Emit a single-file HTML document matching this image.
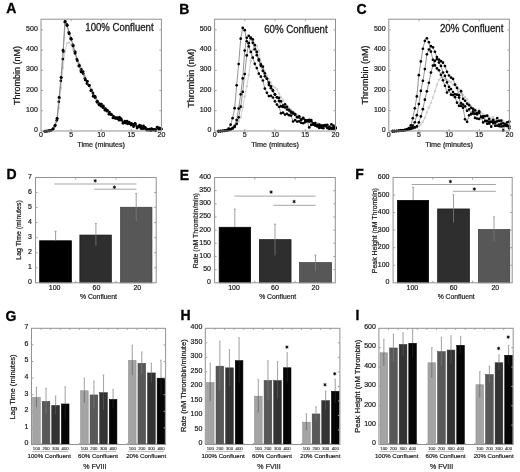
<!DOCTYPE html>
<html><head><meta charset="utf-8"><style>
html,body{margin:0;padding:0;background:#fff;width:520px;height:472px;overflow:hidden}
svg{display:block;font-family:"Liberation Sans", sans-serif;filter:blur(0.45px)}
</style></head><body>
<svg width="520" height="472" viewBox="0 0 520 472">
<rect width="520" height="472" fill="#fff"/>
<text x="6.3" y="12.9" font-size="14" text-anchor="start" font-weight="bold" fill="#000" stroke="#000" stroke-width="0.3">A</text>
<text x="179.3" y="13.5" font-size="14" text-anchor="start" font-weight="bold" fill="#000" stroke="#000" stroke-width="0.3">B</text>
<text x="356.6" y="14" font-size="14" text-anchor="start" font-weight="bold" fill="#000" stroke="#000" stroke-width="0.3">C</text>
<text x="6.6" y="179.3" font-size="14" text-anchor="start" font-weight="bold" fill="#000" stroke="#000" stroke-width="0.3">D</text>
<text x="179.8" y="179.7" font-size="14" text-anchor="start" font-weight="bold" fill="#000" stroke="#000" stroke-width="0.3">E</text>
<text x="355.2" y="179.1" font-size="14" text-anchor="start" font-weight="bold" fill="#000" stroke="#000" stroke-width="0.3">F</text>
<text x="5.5" y="320.8" font-size="14" text-anchor="start" font-weight="bold" fill="#000" stroke="#000" stroke-width="0.3">G</text>
<text x="180.6" y="319.7" font-size="14" text-anchor="start" font-weight="bold" fill="#000" stroke="#000" stroke-width="0.3">H</text>
<text x="355.4" y="319.7" font-size="14" text-anchor="start" font-weight="bold" fill="#000" stroke="#000" stroke-width="0.3">I</text>
<path d="M44.91 131.24 L46.92 131.11 L48.93 130.89 L50.93 130.43 L52.94 129.35 L54.95 126.66 L56.95 121.22 L58.96 108.05 L60.97 87.9 L62.97 67.64 L64.98 51.44 L66.99 43.33 L68.99 42.5 L71 45.29 L73.01 49.44 L75.01 54.31 L77.02 58.63 L79.03 63.16 L81.03 67.63 L83.04 72.56 L85.05 76.16 L87.05 81.14 L89.06 85.72 L91.07 88.79 L93.07 93.41 L95.08 97.39 L97.09 100 L99.09 103.54 L101.1 104.65 L103.11 107.33 L105.11 109.25 L107.12 110.17 L109.13 112.91 L111.13 113.72 L113.14 116.41 L115.15 117.31 L117.15 118.76 L119.16 118.79 L121.17 119.62 L123.17 121.26 L125.18 121.42 L127.19 122.39 L129.19 122.69 L131.2 123.95 L133.21 125.22 L135.21 126.07 L137.22 125.8 L139.23 125.57 L141.23 126.85 L143.24 127.68 L145.25 127.2 L147.25 128.37 L149.26 128.88 L151.27 129.31 L153.27 129.74 L155.28 129.31 L157.29 128.92 L159.29 127.92 L161.3 128.86" fill="none" stroke="#cdcdcd" stroke-width="0.9"/>
<circle cx="44.91" cy="131.24" r="1.2" fill="#d0d0d0"/>
<circle cx="46.92" cy="131.11" r="1.2" fill="#d0d0d0"/>
<circle cx="48.93" cy="130.89" r="1.2" fill="#d0d0d0"/>
<circle cx="50.93" cy="130.43" r="1.2" fill="#d0d0d0"/>
<circle cx="52.94" cy="129.35" r="1.2" fill="#d0d0d0"/>
<circle cx="54.95" cy="126.66" r="1.2" fill="#d0d0d0"/>
<circle cx="56.95" cy="121.22" r="1.2" fill="#d0d0d0"/>
<circle cx="58.96" cy="108.05" r="1.2" fill="#d0d0d0"/>
<circle cx="60.97" cy="87.9" r="1.2" fill="#d0d0d0"/>
<circle cx="62.97" cy="67.64" r="1.2" fill="#d0d0d0"/>
<circle cx="64.98" cy="51.44" r="1.2" fill="#d0d0d0"/>
<circle cx="66.99" cy="43.33" r="1.2" fill="#d0d0d0"/>
<circle cx="68.99" cy="42.5" r="1.2" fill="#d0d0d0"/>
<circle cx="71" cy="45.29" r="1.2" fill="#d0d0d0"/>
<circle cx="73.01" cy="49.44" r="1.2" fill="#d0d0d0"/>
<circle cx="75.01" cy="54.31" r="1.2" fill="#d0d0d0"/>
<circle cx="77.02" cy="58.63" r="1.2" fill="#d0d0d0"/>
<circle cx="79.03" cy="63.16" r="1.2" fill="#d0d0d0"/>
<circle cx="81.03" cy="67.63" r="1.2" fill="#d0d0d0"/>
<circle cx="83.04" cy="72.56" r="1.2" fill="#d0d0d0"/>
<circle cx="85.05" cy="76.16" r="1.2" fill="#d0d0d0"/>
<circle cx="87.05" cy="81.14" r="1.2" fill="#d0d0d0"/>
<circle cx="89.06" cy="85.72" r="1.2" fill="#d0d0d0"/>
<circle cx="91.07" cy="88.79" r="1.2" fill="#d0d0d0"/>
<circle cx="93.07" cy="93.41" r="1.2" fill="#d0d0d0"/>
<circle cx="95.08" cy="97.39" r="1.2" fill="#d0d0d0"/>
<circle cx="97.09" cy="100" r="1.2" fill="#d0d0d0"/>
<circle cx="99.09" cy="103.54" r="1.2" fill="#d0d0d0"/>
<circle cx="101.1" cy="104.65" r="1.2" fill="#d0d0d0"/>
<circle cx="103.11" cy="107.33" r="1.2" fill="#d0d0d0"/>
<circle cx="105.11" cy="109.25" r="1.2" fill="#d0d0d0"/>
<circle cx="107.12" cy="110.17" r="1.2" fill="#d0d0d0"/>
<circle cx="109.13" cy="112.91" r="1.2" fill="#d0d0d0"/>
<circle cx="111.13" cy="113.72" r="1.2" fill="#d0d0d0"/>
<circle cx="113.14" cy="116.41" r="1.2" fill="#d0d0d0"/>
<circle cx="115.15" cy="117.31" r="1.2" fill="#d0d0d0"/>
<circle cx="117.15" cy="118.76" r="1.2" fill="#d0d0d0"/>
<circle cx="119.16" cy="118.79" r="1.2" fill="#d0d0d0"/>
<circle cx="121.17" cy="119.62" r="1.2" fill="#d0d0d0"/>
<circle cx="123.17" cy="121.26" r="1.2" fill="#d0d0d0"/>
<circle cx="125.18" cy="121.42" r="1.2" fill="#d0d0d0"/>
<circle cx="127.19" cy="122.39" r="1.2" fill="#d0d0d0"/>
<circle cx="129.19" cy="122.69" r="1.2" fill="#d0d0d0"/>
<circle cx="131.2" cy="123.95" r="1.2" fill="#d0d0d0"/>
<circle cx="133.21" cy="125.22" r="1.2" fill="#d0d0d0"/>
<circle cx="135.21" cy="126.07" r="1.2" fill="#d0d0d0"/>
<circle cx="137.22" cy="125.8" r="1.2" fill="#d0d0d0"/>
<circle cx="139.23" cy="125.57" r="1.2" fill="#d0d0d0"/>
<circle cx="141.23" cy="126.85" r="1.2" fill="#d0d0d0"/>
<circle cx="143.24" cy="127.68" r="1.2" fill="#d0d0d0"/>
<circle cx="145.25" cy="127.2" r="1.2" fill="#d0d0d0"/>
<circle cx="147.25" cy="128.37" r="1.2" fill="#d0d0d0"/>
<circle cx="149.26" cy="128.88" r="1.2" fill="#d0d0d0"/>
<circle cx="151.27" cy="129.31" r="1.2" fill="#d0d0d0"/>
<circle cx="153.27" cy="129.74" r="1.2" fill="#d0d0d0"/>
<circle cx="155.28" cy="129.31" r="1.2" fill="#d0d0d0"/>
<circle cx="157.29" cy="128.92" r="1.2" fill="#d0d0d0"/>
<circle cx="159.29" cy="127.92" r="1.2" fill="#d0d0d0"/>
<circle cx="161.3" cy="128.86" r="1.2" fill="#d0d0d0"/>
<path d="M45.21 131.23 L47.22 131.09 L49.23 130.87 L51.23 130.29 L53.24 128.8 L55.25 125.29 L57.25 118.65 L59.26 97.91 L61.27 77.8 L63.27 51.71 L65.28 21.66 L67.29 25.36 L69.29 33.48 L71.3 39.2 L73.31 45.48 L75.31 51.99 L77.32 60.71 L79.33 65.21 L81.33 69.36 L83.34 73.84 L85.35 79.59 L87.35 81.26 L89.36 85.46 L91.37 90.02 L93.37 95.31 L95.38 97.73 L97.39 101.2 L99.39 103.61 L101.4 104.11 L103.41 105.88 L105.41 108.7 L107.42 110.48 L109.43 111.98 L111.43 114.51 L113.44 116.21 L115.45 118.38 L117.45 118.85 L119.46 117.13 L121.47 119.77 L123.47 122.01 L125.48 122.79 L127.49 123.82 L129.49 122.92 L131.5 123.66 L133.51 126.76 L135.51 125.22 L137.52 127.1 L139.53 125.19 L141.53 127.22 L143.54 125.83 L145.55 128.98 L147.55 129.26 L149.56 129 L151.57 128.58 L153.57 129.4 L155.58 130.86 L157.59 128.11 L159.59 128.17" fill="none" stroke="#777" stroke-width="0.45"/>
<circle cx="45.21" cy="131.23" r="1.35" fill="#000"/>
<circle cx="47.22" cy="131.09" r="1.35" fill="#000"/>
<circle cx="49.23" cy="130.87" r="1.35" fill="#000"/>
<circle cx="51.23" cy="130.29" r="1.35" fill="#000"/>
<circle cx="53.24" cy="128.8" r="1.35" fill="#000"/>
<circle cx="55.25" cy="125.29" r="1.35" fill="#000"/>
<circle cx="57.25" cy="118.65" r="1.35" fill="#000"/>
<circle cx="59.26" cy="97.91" r="1.35" fill="#000"/>
<circle cx="61.27" cy="77.8" r="1.35" fill="#000"/>
<circle cx="63.27" cy="51.71" r="1.35" fill="#000"/>
<circle cx="65.28" cy="21.66" r="1.35" fill="#000"/>
<circle cx="67.29" cy="25.36" r="1.35" fill="#000"/>
<circle cx="69.29" cy="33.48" r="1.35" fill="#000"/>
<circle cx="71.3" cy="39.2" r="1.35" fill="#000"/>
<circle cx="73.31" cy="45.48" r="1.35" fill="#000"/>
<circle cx="75.31" cy="51.99" r="1.35" fill="#000"/>
<circle cx="77.32" cy="60.71" r="1.35" fill="#000"/>
<circle cx="79.33" cy="65.21" r="1.35" fill="#000"/>
<circle cx="81.33" cy="69.36" r="1.35" fill="#000"/>
<circle cx="83.34" cy="73.84" r="1.35" fill="#000"/>
<circle cx="85.35" cy="79.59" r="1.35" fill="#000"/>
<circle cx="87.35" cy="81.26" r="1.35" fill="#000"/>
<circle cx="89.36" cy="85.46" r="1.35" fill="#000"/>
<circle cx="91.37" cy="90.02" r="1.35" fill="#000"/>
<circle cx="93.37" cy="95.31" r="1.35" fill="#000"/>
<circle cx="95.38" cy="97.73" r="1.35" fill="#000"/>
<circle cx="97.39" cy="101.2" r="1.35" fill="#000"/>
<circle cx="99.39" cy="103.61" r="1.35" fill="#000"/>
<circle cx="101.4" cy="104.11" r="1.35" fill="#000"/>
<circle cx="103.41" cy="105.88" r="1.35" fill="#000"/>
<circle cx="105.41" cy="108.7" r="1.35" fill="#000"/>
<circle cx="107.42" cy="110.48" r="1.35" fill="#000"/>
<circle cx="109.43" cy="111.98" r="1.35" fill="#000"/>
<circle cx="111.43" cy="114.51" r="1.35" fill="#000"/>
<circle cx="113.44" cy="116.21" r="1.35" fill="#000"/>
<circle cx="115.45" cy="118.38" r="1.35" fill="#000"/>
<circle cx="117.45" cy="118.85" r="1.35" fill="#000"/>
<circle cx="119.46" cy="117.13" r="1.35" fill="#000"/>
<circle cx="121.47" cy="119.77" r="1.35" fill="#000"/>
<circle cx="123.47" cy="122.01" r="1.35" fill="#000"/>
<circle cx="125.48" cy="122.79" r="1.35" fill="#000"/>
<circle cx="127.49" cy="123.82" r="1.35" fill="#000"/>
<circle cx="129.49" cy="122.92" r="1.35" fill="#000"/>
<circle cx="131.5" cy="123.66" r="1.35" fill="#000"/>
<circle cx="133.51" cy="126.76" r="1.35" fill="#000"/>
<circle cx="135.51" cy="125.22" r="1.35" fill="#000"/>
<circle cx="137.52" cy="127.1" r="1.35" fill="#000"/>
<circle cx="139.53" cy="125.19" r="1.35" fill="#000"/>
<circle cx="141.53" cy="127.22" r="1.35" fill="#000"/>
<circle cx="143.54" cy="125.83" r="1.35" fill="#000"/>
<circle cx="145.55" cy="128.98" r="1.35" fill="#000"/>
<circle cx="147.55" cy="129.26" r="1.35" fill="#000"/>
<circle cx="149.56" cy="129" r="1.35" fill="#000"/>
<circle cx="151.57" cy="128.58" r="1.35" fill="#000"/>
<circle cx="153.57" cy="129.4" r="1.35" fill="#000"/>
<circle cx="155.58" cy="130.86" r="1.35" fill="#000"/>
<circle cx="157.59" cy="128.11" r="1.35" fill="#000"/>
<circle cx="159.59" cy="128.17" r="1.35" fill="#000"/>
<path d="M44.73 131.25 L46.74 131.12 L48.75 130.92 L50.75 130.46 L52.76 129.13 L54.77 126.08 L56.77 120.37 L58.78 101.75 L60.79 80.83 L62.79 59.07 L64.8 22.04 L66.81 24.44 L68.81 32.33 L70.82 38.2 L72.83 44.89 L74.83 51.7 L76.84 59.12 L78.85 65.54 L80.85 70.74 L82.86 72.98 L84.87 78.28 L86.87 83.59 L88.88 85.32 L90.89 90.69 L92.89 92.95 L94.9 97.57 L96.91 101.32 L98.91 104.28 L100.92 105.9 L102.93 107.72 L104.93 110.2 L106.94 111.2 L108.95 114.36 L110.95 114.17 L112.96 118.01 L114.97 117.56 L116.97 117.72 L118.98 118.36 L120.99 118.58 L122.99 123.36 L125 121.19 L127.01 121.21 L129.01 122.07 L131.02 125.11 L133.03 124.36 L135.03 123.43 L137.04 128.12 L139.05 126.26 L141.05 125.97 L143.06 128.67 L145.07 127.63 L147.07 130.13 L149.08 130.27 L151.09 130.77 L153.09 129.85 L155.1 129.66 L157.11 127.33 L159.11 129.25 L161.12 129.24" fill="none" stroke="#666" stroke-width="0.45"/>
<circle cx="44.73" cy="131.25" r="1.35" fill="#000"/>
<circle cx="46.74" cy="131.12" r="1.35" fill="#000"/>
<circle cx="48.75" cy="130.92" r="1.35" fill="#000"/>
<circle cx="50.75" cy="130.46" r="1.35" fill="#000"/>
<circle cx="52.76" cy="129.13" r="1.35" fill="#000"/>
<circle cx="54.77" cy="126.08" r="1.35" fill="#000"/>
<circle cx="56.77" cy="120.37" r="1.35" fill="#000"/>
<circle cx="58.78" cy="101.75" r="1.35" fill="#000"/>
<circle cx="60.79" cy="80.83" r="1.35" fill="#000"/>
<circle cx="62.79" cy="59.07" r="1.35" fill="#000"/>
<circle cx="64.8" cy="22.04" r="1.35" fill="#000"/>
<circle cx="66.81" cy="24.44" r="1.35" fill="#000"/>
<circle cx="68.81" cy="32.33" r="1.35" fill="#000"/>
<circle cx="70.82" cy="38.2" r="1.35" fill="#000"/>
<circle cx="72.83" cy="44.89" r="1.35" fill="#000"/>
<circle cx="74.83" cy="51.7" r="1.35" fill="#000"/>
<circle cx="76.84" cy="59.12" r="1.35" fill="#000"/>
<circle cx="78.85" cy="65.54" r="1.35" fill="#000"/>
<circle cx="80.85" cy="70.74" r="1.35" fill="#000"/>
<circle cx="82.86" cy="72.98" r="1.35" fill="#000"/>
<circle cx="84.87" cy="78.28" r="1.35" fill="#000"/>
<circle cx="86.87" cy="83.59" r="1.35" fill="#000"/>
<circle cx="88.88" cy="85.32" r="1.35" fill="#000"/>
<circle cx="90.89" cy="90.69" r="1.35" fill="#000"/>
<circle cx="92.89" cy="92.95" r="1.35" fill="#000"/>
<circle cx="94.9" cy="97.57" r="1.35" fill="#000"/>
<circle cx="96.91" cy="101.32" r="1.35" fill="#000"/>
<circle cx="98.91" cy="104.28" r="1.35" fill="#000"/>
<circle cx="100.92" cy="105.9" r="1.35" fill="#000"/>
<circle cx="102.93" cy="107.72" r="1.35" fill="#000"/>
<circle cx="104.93" cy="110.2" r="1.35" fill="#000"/>
<circle cx="106.94" cy="111.2" r="1.35" fill="#000"/>
<circle cx="108.95" cy="114.36" r="1.35" fill="#000"/>
<circle cx="110.95" cy="114.17" r="1.35" fill="#000"/>
<circle cx="112.96" cy="118.01" r="1.35" fill="#000"/>
<circle cx="114.97" cy="117.56" r="1.35" fill="#000"/>
<circle cx="116.97" cy="117.72" r="1.35" fill="#000"/>
<circle cx="118.98" cy="118.36" r="1.35" fill="#000"/>
<circle cx="120.99" cy="118.58" r="1.35" fill="#000"/>
<circle cx="122.99" cy="123.36" r="1.35" fill="#000"/>
<circle cx="125" cy="121.19" r="1.35" fill="#000"/>
<circle cx="127.01" cy="121.21" r="1.35" fill="#000"/>
<circle cx="129.01" cy="122.07" r="1.35" fill="#000"/>
<circle cx="131.02" cy="125.11" r="1.35" fill="#000"/>
<circle cx="133.03" cy="124.36" r="1.35" fill="#000"/>
<circle cx="135.03" cy="123.43" r="1.35" fill="#000"/>
<circle cx="137.04" cy="128.12" r="1.35" fill="#000"/>
<circle cx="139.05" cy="126.26" r="1.35" fill="#000"/>
<circle cx="141.05" cy="125.97" r="1.35" fill="#000"/>
<circle cx="143.06" cy="128.67" r="1.35" fill="#000"/>
<circle cx="145.07" cy="127.63" r="1.35" fill="#000"/>
<circle cx="147.07" cy="130.13" r="1.35" fill="#000"/>
<circle cx="149.08" cy="130.27" r="1.35" fill="#000"/>
<circle cx="151.09" cy="130.77" r="1.35" fill="#000"/>
<circle cx="153.09" cy="129.85" r="1.35" fill="#000"/>
<circle cx="155.1" cy="129.66" r="1.35" fill="#000"/>
<circle cx="157.11" cy="127.33" r="1.35" fill="#000"/>
<circle cx="159.11" cy="129.25" r="1.35" fill="#000"/>
<circle cx="161.12" cy="129.24" r="1.35" fill="#000"/>
<path d="M44.97 131.22 L46.98 131.09 L48.99 130.86 L50.99 130.26 L53 128.74 L55.01 125.15 L57.01 118.28 L59.02 97.27 L61.03 77.33 L63.03 50.16 L65.04 21.69 L67.05 25.54 L69.05 33.65 L71.06 39.17 L73.07 46.09 L75.07 53.3 L77.08 60.12 L79.09 66.19 L81.09 71.98 L83.1 71.62 L85.11 79.88 L87.11 81.42 L89.12 85.54 L91.13 90.46 L93.13 96.33 L95.14 96.35 L97.15 102.32 L99.15 104.95 L101.16 106.19 L103.17 106.83 L105.17 109.19 L107.18 110.22 L109.19 113.39 L111.19 114.75 L113.2 117.55 L115.21 117.98 L117.21 118.1 L119.22 120.27 L121.23 120.27 L123.23 122.31 L125.24 122.95 L127.25 122.74 L129.25 123.63 L131.26 123.44 L133.27 124.82 L135.27 123.72 L137.28 126.69 L139.29 127.21 L141.29 128.69 L143.3 127.9 L145.31 127.61 L147.31 129.83 L149.32 129.44 L151.33 129 L153.33 130.23 L155.34 129.96 L157.35 127.13 L159.35 128.1 L161.36 128.9" fill="none" stroke="#777" stroke-width="0.45"/>
<circle cx="44.97" cy="131.22" r="1.35" fill="#000"/>
<circle cx="46.98" cy="131.09" r="1.35" fill="#000"/>
<circle cx="48.99" cy="130.86" r="1.35" fill="#000"/>
<circle cx="50.99" cy="130.26" r="1.35" fill="#000"/>
<circle cx="53" cy="128.74" r="1.35" fill="#000"/>
<circle cx="55.01" cy="125.15" r="1.35" fill="#000"/>
<circle cx="57.01" cy="118.28" r="1.35" fill="#000"/>
<circle cx="59.02" cy="97.27" r="1.35" fill="#000"/>
<circle cx="61.03" cy="77.33" r="1.35" fill="#000"/>
<circle cx="63.03" cy="50.16" r="1.35" fill="#000"/>
<circle cx="65.04" cy="21.69" r="1.35" fill="#000"/>
<circle cx="67.05" cy="25.54" r="1.35" fill="#000"/>
<circle cx="69.05" cy="33.65" r="1.35" fill="#000"/>
<circle cx="71.06" cy="39.17" r="1.35" fill="#000"/>
<circle cx="73.07" cy="46.09" r="1.35" fill="#000"/>
<circle cx="75.07" cy="53.3" r="1.35" fill="#000"/>
<circle cx="77.08" cy="60.12" r="1.35" fill="#000"/>
<circle cx="79.09" cy="66.19" r="1.35" fill="#000"/>
<circle cx="81.09" cy="71.98" r="1.35" fill="#000"/>
<circle cx="83.1" cy="71.62" r="1.35" fill="#000"/>
<circle cx="85.11" cy="79.88" r="1.35" fill="#000"/>
<circle cx="87.11" cy="81.42" r="1.35" fill="#000"/>
<circle cx="89.12" cy="85.54" r="1.35" fill="#000"/>
<circle cx="91.13" cy="90.46" r="1.35" fill="#000"/>
<circle cx="93.13" cy="96.33" r="1.35" fill="#000"/>
<circle cx="95.14" cy="96.35" r="1.35" fill="#000"/>
<circle cx="97.15" cy="102.32" r="1.35" fill="#000"/>
<circle cx="99.15" cy="104.95" r="1.35" fill="#000"/>
<circle cx="101.16" cy="106.19" r="1.35" fill="#000"/>
<circle cx="103.17" cy="106.83" r="1.35" fill="#000"/>
<circle cx="105.17" cy="109.19" r="1.35" fill="#000"/>
<circle cx="107.18" cy="110.22" r="1.35" fill="#000"/>
<circle cx="109.19" cy="113.39" r="1.35" fill="#000"/>
<circle cx="111.19" cy="114.75" r="1.35" fill="#000"/>
<circle cx="113.2" cy="117.55" r="1.35" fill="#000"/>
<circle cx="115.21" cy="117.98" r="1.35" fill="#000"/>
<circle cx="117.21" cy="118.1" r="1.35" fill="#000"/>
<circle cx="119.22" cy="120.27" r="1.35" fill="#000"/>
<circle cx="121.23" cy="120.27" r="1.35" fill="#000"/>
<circle cx="123.23" cy="122.31" r="1.35" fill="#000"/>
<circle cx="125.24" cy="122.95" r="1.35" fill="#000"/>
<circle cx="127.25" cy="122.74" r="1.35" fill="#000"/>
<circle cx="129.25" cy="123.63" r="1.35" fill="#000"/>
<circle cx="131.26" cy="123.44" r="1.35" fill="#000"/>
<circle cx="133.27" cy="124.82" r="1.35" fill="#000"/>
<circle cx="135.27" cy="123.72" r="1.35" fill="#000"/>
<circle cx="137.28" cy="126.69" r="1.35" fill="#000"/>
<circle cx="139.29" cy="127.21" r="1.35" fill="#000"/>
<circle cx="141.29" cy="128.69" r="1.35" fill="#000"/>
<circle cx="143.3" cy="127.9" r="1.35" fill="#000"/>
<circle cx="145.31" cy="127.61" r="1.35" fill="#000"/>
<circle cx="147.31" cy="129.83" r="1.35" fill="#000"/>
<circle cx="149.32" cy="129.44" r="1.35" fill="#000"/>
<circle cx="151.33" cy="129" r="1.35" fill="#000"/>
<circle cx="153.33" cy="130.23" r="1.35" fill="#000"/>
<circle cx="155.34" cy="129.96" r="1.35" fill="#000"/>
<circle cx="157.35" cy="127.13" r="1.35" fill="#000"/>
<circle cx="159.35" cy="128.1" r="1.35" fill="#000"/>
<circle cx="161.36" cy="128.9" r="1.35" fill="#000"/>
<rect x="41" y="19.2" width="120.4" height="111.8" fill="none" stroke="#929292" stroke-width="1"/>
<line x1="41" y1="110.7" x2="43" y2="110.7" stroke="#a0a0a0" stroke-width="1"/>
<line x1="161.4" y1="110.7" x2="159.4" y2="110.7" stroke="#a0a0a0" stroke-width="1"/>
<line x1="41" y1="90.5" x2="43" y2="90.5" stroke="#a0a0a0" stroke-width="1"/>
<line x1="161.4" y1="90.5" x2="159.4" y2="90.5" stroke="#a0a0a0" stroke-width="1"/>
<line x1="41" y1="70.3" x2="43" y2="70.3" stroke="#a0a0a0" stroke-width="1"/>
<line x1="161.4" y1="70.3" x2="159.4" y2="70.3" stroke="#a0a0a0" stroke-width="1"/>
<line x1="41" y1="50.1" x2="43" y2="50.1" stroke="#a0a0a0" stroke-width="1"/>
<line x1="161.4" y1="50.1" x2="159.4" y2="50.1" stroke="#a0a0a0" stroke-width="1"/>
<line x1="41" y1="29.9" x2="43" y2="29.9" stroke="#a0a0a0" stroke-width="1"/>
<line x1="161.4" y1="29.9" x2="159.4" y2="29.9" stroke="#a0a0a0" stroke-width="1"/>
<line x1="71.1" y1="131" x2="71.1" y2="129" stroke="#a0a0a0" stroke-width="1"/>
<line x1="71.1" y1="19.2" x2="71.1" y2="21.2" stroke="#a0a0a0" stroke-width="1"/>
<line x1="101.2" y1="131" x2="101.2" y2="129" stroke="#a0a0a0" stroke-width="1"/>
<line x1="101.2" y1="19.2" x2="101.2" y2="21.2" stroke="#a0a0a0" stroke-width="1"/>
<line x1="131.3" y1="131" x2="131.3" y2="129" stroke="#a0a0a0" stroke-width="1"/>
<line x1="131.3" y1="19.2" x2="131.3" y2="21.2" stroke="#a0a0a0" stroke-width="1"/>
<text x="37.8" y="132" font-size="7" text-anchor="end" font-weight="normal" fill="#1c1c1c" stroke="#1c1c1c" stroke-width="0.21">0</text>
<text x="37.8" y="111.8" font-size="7" text-anchor="end" font-weight="normal" fill="#1c1c1c" stroke="#1c1c1c" stroke-width="0.21">100</text>
<text x="37.8" y="91.6" font-size="7" text-anchor="end" font-weight="normal" fill="#1c1c1c" stroke="#1c1c1c" stroke-width="0.21">200</text>
<text x="37.8" y="71.4" font-size="7" text-anchor="end" font-weight="normal" fill="#1c1c1c" stroke="#1c1c1c" stroke-width="0.21">300</text>
<text x="37.8" y="51.2" font-size="7" text-anchor="end" font-weight="normal" fill="#1c1c1c" stroke="#1c1c1c" stroke-width="0.21">400</text>
<text x="37.8" y="31" font-size="7" text-anchor="end" font-weight="normal" fill="#1c1c1c" stroke="#1c1c1c" stroke-width="0.21">500</text>
<text x="41" y="136.6" font-size="7" text-anchor="middle" font-weight="normal" fill="#1c1c1c" stroke="#1c1c1c" stroke-width="0.21">0</text>
<text x="71.1" y="136.6" font-size="7" text-anchor="middle" font-weight="normal" fill="#1c1c1c" stroke="#1c1c1c" stroke-width="0.21">5</text>
<text x="101.2" y="136.6" font-size="7" text-anchor="middle" font-weight="normal" fill="#1c1c1c" stroke="#1c1c1c" stroke-width="0.21">10</text>
<text x="131.3" y="136.6" font-size="7" text-anchor="middle" font-weight="normal" fill="#1c1c1c" stroke="#1c1c1c" stroke-width="0.21">15</text>
<text x="161.4" y="136.6" font-size="7" text-anchor="middle" font-weight="normal" fill="#1c1c1c" stroke="#1c1c1c" stroke-width="0.21">20</text>
<text x="101.2" y="147" font-size="7.2" text-anchor="middle" font-weight="normal" fill="#1c1c1c" stroke="#1c1c1c" stroke-width="0.22">Time (minutes)</text>
<text x="19.6" y="75.45" font-size="9" text-anchor="middle" font-weight="normal" fill="#1c1c1c" stroke="#1c1c1c" stroke-width="0.27" transform="rotate(-90 19.6 75.45)">Thrombin (nM)</text>
<text x="85.3" y="31.4" font-size="10" text-anchor="start" font-weight="normal" fill="#1c1c1c" stroke="#1c1c1c" stroke-width="0.3" textLength="68.3" lengthAdjust="spacingAndGlyphs">100% Confluent</text>
<path d="M218.53 131.15 L220.54 131.04 L222.56 130.93 L224.57 130.78 L226.59 130.55 L228.6 130.15 L230.62 129.58 L232.63 128.62 L234.65 127.17 L236.66 124.61 L238.68 121.57 L240.69 117.17 L242.71 107.31 L244.72 96.53 L246.74 86.26 L248.75 74.98 L250.77 60.79 L252.78 49.71 L254.8 45.87 L256.81 45.75 L258.83 50.86 L260.84 62.47 L262.86 67.9 L264.87 71.71 L266.89 75.66 L268.9 79.31 L270.92 82.65 L272.93 86.19 L274.95 87.39 L276.96 89.49 L278.98 93.52 L280.99 97.12 L283.01 99.87 L285.02 103.65 L287.04 105.84 L289.05 108.45 L291.07 109.52 L293.08 111.77 L295.1 114.04 L297.11 114.6 L299.13 115.65 L301.14 117.7 L303.16 118.66 L305.17 120.77 L307.19 119.71 L309.2 121.44 L311.22 123.14 L313.23 123.64 L315.25 123.39 L317.26 123.42 L319.28 124.53 L321.29 124.73 L323.31 126.18 L325.32 126.79 L327.34 125.88 L329.35 126.53 L331.37 127.22 L333.38 126.75 L335.4 128.39" fill="none" stroke="#cdcdcd" stroke-width="0.9"/>
<circle cx="218.53" cy="131.15" r="1.2" fill="#d0d0d0"/>
<circle cx="220.54" cy="131.04" r="1.2" fill="#d0d0d0"/>
<circle cx="222.56" cy="130.93" r="1.2" fill="#d0d0d0"/>
<circle cx="224.57" cy="130.78" r="1.2" fill="#d0d0d0"/>
<circle cx="226.59" cy="130.55" r="1.2" fill="#d0d0d0"/>
<circle cx="228.6" cy="130.15" r="1.2" fill="#d0d0d0"/>
<circle cx="230.62" cy="129.58" r="1.2" fill="#d0d0d0"/>
<circle cx="232.63" cy="128.62" r="1.2" fill="#d0d0d0"/>
<circle cx="234.65" cy="127.17" r="1.2" fill="#d0d0d0"/>
<circle cx="236.66" cy="124.61" r="1.2" fill="#d0d0d0"/>
<circle cx="238.68" cy="121.57" r="1.2" fill="#d0d0d0"/>
<circle cx="240.69" cy="117.17" r="1.2" fill="#d0d0d0"/>
<circle cx="242.71" cy="107.31" r="1.2" fill="#d0d0d0"/>
<circle cx="244.72" cy="96.53" r="1.2" fill="#d0d0d0"/>
<circle cx="246.74" cy="86.26" r="1.2" fill="#d0d0d0"/>
<circle cx="248.75" cy="74.98" r="1.2" fill="#d0d0d0"/>
<circle cx="250.77" cy="60.79" r="1.2" fill="#d0d0d0"/>
<circle cx="252.78" cy="49.71" r="1.2" fill="#d0d0d0"/>
<circle cx="254.8" cy="45.87" r="1.2" fill="#d0d0d0"/>
<circle cx="256.81" cy="45.75" r="1.2" fill="#d0d0d0"/>
<circle cx="258.83" cy="50.86" r="1.2" fill="#d0d0d0"/>
<circle cx="260.84" cy="62.47" r="1.2" fill="#d0d0d0"/>
<circle cx="262.86" cy="67.9" r="1.2" fill="#d0d0d0"/>
<circle cx="264.87" cy="71.71" r="1.2" fill="#d0d0d0"/>
<circle cx="266.89" cy="75.66" r="1.2" fill="#d0d0d0"/>
<circle cx="268.9" cy="79.31" r="1.2" fill="#d0d0d0"/>
<circle cx="270.92" cy="82.65" r="1.2" fill="#d0d0d0"/>
<circle cx="272.93" cy="86.19" r="1.2" fill="#d0d0d0"/>
<circle cx="274.95" cy="87.39" r="1.2" fill="#d0d0d0"/>
<circle cx="276.96" cy="89.49" r="1.2" fill="#d0d0d0"/>
<circle cx="278.98" cy="93.52" r="1.2" fill="#d0d0d0"/>
<circle cx="280.99" cy="97.12" r="1.2" fill="#d0d0d0"/>
<circle cx="283.01" cy="99.87" r="1.2" fill="#d0d0d0"/>
<circle cx="285.02" cy="103.65" r="1.2" fill="#d0d0d0"/>
<circle cx="287.04" cy="105.84" r="1.2" fill="#d0d0d0"/>
<circle cx="289.05" cy="108.45" r="1.2" fill="#d0d0d0"/>
<circle cx="291.07" cy="109.52" r="1.2" fill="#d0d0d0"/>
<circle cx="293.08" cy="111.77" r="1.2" fill="#d0d0d0"/>
<circle cx="295.1" cy="114.04" r="1.2" fill="#d0d0d0"/>
<circle cx="297.11" cy="114.6" r="1.2" fill="#d0d0d0"/>
<circle cx="299.13" cy="115.65" r="1.2" fill="#d0d0d0"/>
<circle cx="301.14" cy="117.7" r="1.2" fill="#d0d0d0"/>
<circle cx="303.16" cy="118.66" r="1.2" fill="#d0d0d0"/>
<circle cx="305.17" cy="120.77" r="1.2" fill="#d0d0d0"/>
<circle cx="307.19" cy="119.71" r="1.2" fill="#d0d0d0"/>
<circle cx="309.2" cy="121.44" r="1.2" fill="#d0d0d0"/>
<circle cx="311.22" cy="123.14" r="1.2" fill="#d0d0d0"/>
<circle cx="313.23" cy="123.64" r="1.2" fill="#d0d0d0"/>
<circle cx="315.25" cy="123.39" r="1.2" fill="#d0d0d0"/>
<circle cx="317.26" cy="123.42" r="1.2" fill="#d0d0d0"/>
<circle cx="319.28" cy="124.53" r="1.2" fill="#d0d0d0"/>
<circle cx="321.29" cy="124.73" r="1.2" fill="#d0d0d0"/>
<circle cx="323.31" cy="126.18" r="1.2" fill="#d0d0d0"/>
<circle cx="325.32" cy="126.79" r="1.2" fill="#d0d0d0"/>
<circle cx="327.34" cy="125.88" r="1.2" fill="#d0d0d0"/>
<circle cx="329.35" cy="126.53" r="1.2" fill="#d0d0d0"/>
<circle cx="331.37" cy="127.22" r="1.2" fill="#d0d0d0"/>
<circle cx="333.38" cy="126.75" r="1.2" fill="#d0d0d0"/>
<circle cx="335.4" cy="128.39" r="1.2" fill="#d0d0d0"/>
<path d="M218.53 131.21 L220.54 131.1 L222.56 130.99 L224.57 130.84 L226.59 130.63 L228.6 130.2 L230.62 129.58 L232.63 128.6 L234.65 126.98 L236.66 123.85 L238.68 117.35 L240.69 106.65 L242.71 91.95 L244.72 74 L246.74 55.42 L248.75 43.17 L250.77 38.37 L252.78 39.39 L254.8 45 L256.81 51.95 L258.83 59.38 L260.84 64.36 L262.86 66.61 L264.87 73.28 L266.89 78.52 L268.9 82.68 L270.92 86.47 L272.93 90.14 L274.95 94.37 L276.96 97.3 L278.98 97.91 L280.99 101.35 L283.01 105.59 L285.02 104.35 L287.04 106.83 L289.05 109.86 L291.07 111.53 L293.08 112.48 L295.1 115.02 L297.11 117.14 L299.13 116.31 L301.14 119.53 L303.16 118.33 L305.17 121.5 L307.19 120.75 L309.2 121.6 L311.22 120.03 L313.23 124.19 L315.25 125.28 L317.26 124.97 L319.28 126.13 L321.29 126.03 L323.31 125.31 L325.32 125.36 L327.34 124.74 L329.35 128.07 L331.37 124.37 L333.38 125.53 L335.4 128.5" fill="none" stroke="#2a2a2a" stroke-width="0.5"/>
<circle cx="218.53" cy="131.21" r="1.35" fill="#000"/>
<circle cx="220.54" cy="131.1" r="1.35" fill="#000"/>
<circle cx="222.56" cy="130.99" r="1.35" fill="#000"/>
<circle cx="224.57" cy="130.84" r="1.35" fill="#000"/>
<circle cx="226.59" cy="130.63" r="1.35" fill="#000"/>
<circle cx="228.6" cy="130.2" r="1.35" fill="#000"/>
<circle cx="230.62" cy="129.58" r="1.35" fill="#000"/>
<circle cx="232.63" cy="128.6" r="1.35" fill="#000"/>
<circle cx="234.65" cy="126.98" r="1.35" fill="#000"/>
<circle cx="236.66" cy="123.85" r="1.35" fill="#000"/>
<circle cx="238.68" cy="117.35" r="1.35" fill="#000"/>
<circle cx="240.69" cy="106.65" r="1.35" fill="#000"/>
<circle cx="242.71" cy="91.95" r="1.35" fill="#000"/>
<circle cx="244.72" cy="74" r="1.35" fill="#000"/>
<circle cx="246.74" cy="55.42" r="1.35" fill="#000"/>
<circle cx="248.75" cy="43.17" r="1.35" fill="#000"/>
<circle cx="250.77" cy="38.37" r="1.35" fill="#000"/>
<circle cx="252.78" cy="39.39" r="1.35" fill="#000"/>
<circle cx="254.8" cy="45" r="1.35" fill="#000"/>
<circle cx="256.81" cy="51.95" r="1.35" fill="#000"/>
<circle cx="258.83" cy="59.38" r="1.35" fill="#000"/>
<circle cx="260.84" cy="64.36" r="1.35" fill="#000"/>
<circle cx="262.86" cy="66.61" r="1.35" fill="#000"/>
<circle cx="264.87" cy="73.28" r="1.35" fill="#000"/>
<circle cx="266.89" cy="78.52" r="1.35" fill="#000"/>
<circle cx="268.9" cy="82.68" r="1.35" fill="#000"/>
<circle cx="270.92" cy="86.47" r="1.35" fill="#000"/>
<circle cx="272.93" cy="90.14" r="1.35" fill="#000"/>
<circle cx="274.95" cy="94.37" r="1.35" fill="#000"/>
<circle cx="276.96" cy="97.3" r="1.35" fill="#000"/>
<circle cx="278.98" cy="97.91" r="1.35" fill="#000"/>
<circle cx="280.99" cy="101.35" r="1.35" fill="#000"/>
<circle cx="283.01" cy="105.59" r="1.35" fill="#000"/>
<circle cx="285.02" cy="104.35" r="1.35" fill="#000"/>
<circle cx="287.04" cy="106.83" r="1.35" fill="#000"/>
<circle cx="289.05" cy="109.86" r="1.35" fill="#000"/>
<circle cx="291.07" cy="111.53" r="1.35" fill="#000"/>
<circle cx="293.08" cy="112.48" r="1.35" fill="#000"/>
<circle cx="295.1" cy="115.02" r="1.35" fill="#000"/>
<circle cx="297.11" cy="117.14" r="1.35" fill="#000"/>
<circle cx="299.13" cy="116.31" r="1.35" fill="#000"/>
<circle cx="301.14" cy="119.53" r="1.35" fill="#000"/>
<circle cx="303.16" cy="118.33" r="1.35" fill="#000"/>
<circle cx="305.17" cy="121.5" r="1.35" fill="#000"/>
<circle cx="307.19" cy="120.75" r="1.35" fill="#000"/>
<circle cx="309.2" cy="121.6" r="1.35" fill="#000"/>
<circle cx="311.22" cy="120.03" r="1.35" fill="#000"/>
<circle cx="313.23" cy="124.19" r="1.35" fill="#000"/>
<circle cx="315.25" cy="125.28" r="1.35" fill="#000"/>
<circle cx="317.26" cy="124.97" r="1.35" fill="#000"/>
<circle cx="319.28" cy="126.13" r="1.35" fill="#000"/>
<circle cx="321.29" cy="126.03" r="1.35" fill="#000"/>
<circle cx="323.31" cy="125.31" r="1.35" fill="#000"/>
<circle cx="325.32" cy="125.36" r="1.35" fill="#000"/>
<circle cx="327.34" cy="124.74" r="1.35" fill="#000"/>
<circle cx="329.35" cy="128.07" r="1.35" fill="#000"/>
<circle cx="331.37" cy="124.37" r="1.35" fill="#000"/>
<circle cx="333.38" cy="125.53" r="1.35" fill="#000"/>
<circle cx="335.4" cy="128.5" r="1.35" fill="#000"/>
<path d="M218.53 131.21 L220.54 131.1 L222.56 130.98 L224.57 130.8 L226.59 130.49 L228.6 129.9 L230.62 129.07 L232.63 127.74 L234.65 125.73 L236.66 120.12 L238.68 108.53 L240.69 94.33 L242.71 78.4 L244.72 50.53 L246.74 37.87 L248.75 35.85 L250.77 37.67 L252.78 42.79 L254.8 49.23 L256.81 55.2 L258.83 60.42 L260.84 65.86 L262.86 70.9 L264.87 76.31 L266.89 78.74 L268.9 84.91 L270.92 88.24 L272.93 90.97 L274.95 94.62 L276.96 97.23 L278.98 101.04 L280.99 106.45 L283.01 106.96 L285.02 107.4 L287.04 109.49 L289.05 110.49 L291.07 112.59 L293.08 113.55 L295.1 113.98 L297.11 117.11 L299.13 117.46 L301.14 120.1 L303.16 117.97 L305.17 120.06 L307.19 120.41 L309.2 119.97 L311.22 121.29 L313.23 123.37 L315.25 123 L317.26 126.31 L319.28 124.63 L321.29 125.53 L323.31 128.19 L325.32 125.1 L327.34 128.06 L329.35 126.83 L331.37 128.59 L333.38 127.28 L335.4 127.27" fill="none" stroke="#2a2a2a" stroke-width="0.5"/>
<circle cx="218.53" cy="131.21" r="1.35" fill="#000"/>
<circle cx="220.54" cy="131.1" r="1.35" fill="#000"/>
<circle cx="222.56" cy="130.98" r="1.35" fill="#000"/>
<circle cx="224.57" cy="130.8" r="1.35" fill="#000"/>
<circle cx="226.59" cy="130.49" r="1.35" fill="#000"/>
<circle cx="228.6" cy="129.9" r="1.35" fill="#000"/>
<circle cx="230.62" cy="129.07" r="1.35" fill="#000"/>
<circle cx="232.63" cy="127.74" r="1.35" fill="#000"/>
<circle cx="234.65" cy="125.73" r="1.35" fill="#000"/>
<circle cx="236.66" cy="120.12" r="1.35" fill="#000"/>
<circle cx="238.68" cy="108.53" r="1.35" fill="#000"/>
<circle cx="240.69" cy="94.33" r="1.35" fill="#000"/>
<circle cx="242.71" cy="78.4" r="1.35" fill="#000"/>
<circle cx="244.72" cy="50.53" r="1.35" fill="#000"/>
<circle cx="246.74" cy="37.87" r="1.35" fill="#000"/>
<circle cx="248.75" cy="35.85" r="1.35" fill="#000"/>
<circle cx="250.77" cy="37.67" r="1.35" fill="#000"/>
<circle cx="252.78" cy="42.79" r="1.35" fill="#000"/>
<circle cx="254.8" cy="49.23" r="1.35" fill="#000"/>
<circle cx="256.81" cy="55.2" r="1.35" fill="#000"/>
<circle cx="258.83" cy="60.42" r="1.35" fill="#000"/>
<circle cx="260.84" cy="65.86" r="1.35" fill="#000"/>
<circle cx="262.86" cy="70.9" r="1.35" fill="#000"/>
<circle cx="264.87" cy="76.31" r="1.35" fill="#000"/>
<circle cx="266.89" cy="78.74" r="1.35" fill="#000"/>
<circle cx="268.9" cy="84.91" r="1.35" fill="#000"/>
<circle cx="270.92" cy="88.24" r="1.35" fill="#000"/>
<circle cx="272.93" cy="90.97" r="1.35" fill="#000"/>
<circle cx="274.95" cy="94.62" r="1.35" fill="#000"/>
<circle cx="276.96" cy="97.23" r="1.35" fill="#000"/>
<circle cx="278.98" cy="101.04" r="1.35" fill="#000"/>
<circle cx="280.99" cy="106.45" r="1.35" fill="#000"/>
<circle cx="283.01" cy="106.96" r="1.35" fill="#000"/>
<circle cx="285.02" cy="107.4" r="1.35" fill="#000"/>
<circle cx="287.04" cy="109.49" r="1.35" fill="#000"/>
<circle cx="289.05" cy="110.49" r="1.35" fill="#000"/>
<circle cx="291.07" cy="112.59" r="1.35" fill="#000"/>
<circle cx="293.08" cy="113.55" r="1.35" fill="#000"/>
<circle cx="295.1" cy="113.98" r="1.35" fill="#000"/>
<circle cx="297.11" cy="117.11" r="1.35" fill="#000"/>
<circle cx="299.13" cy="117.46" r="1.35" fill="#000"/>
<circle cx="301.14" cy="120.1" r="1.35" fill="#000"/>
<circle cx="303.16" cy="117.97" r="1.35" fill="#000"/>
<circle cx="305.17" cy="120.06" r="1.35" fill="#000"/>
<circle cx="307.19" cy="120.41" r="1.35" fill="#000"/>
<circle cx="309.2" cy="119.97" r="1.35" fill="#000"/>
<circle cx="311.22" cy="121.29" r="1.35" fill="#000"/>
<circle cx="313.23" cy="123.37" r="1.35" fill="#000"/>
<circle cx="315.25" cy="123" r="1.35" fill="#000"/>
<circle cx="317.26" cy="126.31" r="1.35" fill="#000"/>
<circle cx="319.28" cy="124.63" r="1.35" fill="#000"/>
<circle cx="321.29" cy="125.53" r="1.35" fill="#000"/>
<circle cx="323.31" cy="128.19" r="1.35" fill="#000"/>
<circle cx="325.32" cy="125.1" r="1.35" fill="#000"/>
<circle cx="327.34" cy="128.06" r="1.35" fill="#000"/>
<circle cx="329.35" cy="126.83" r="1.35" fill="#000"/>
<circle cx="331.37" cy="128.59" r="1.35" fill="#000"/>
<circle cx="333.38" cy="127.28" r="1.35" fill="#000"/>
<circle cx="335.4" cy="127.27" r="1.35" fill="#000"/>
<path d="M218.53 131.23 L220.54 131.1 L222.56 130.93 L224.57 130.64 L226.59 130.01 L228.6 128.63 L230.62 124.69 L232.63 118.13 L234.65 108.2 L236.66 85.26 L238.68 64.05 L240.69 38.66 L242.71 27.9 L244.72 30.22 L246.74 41.27 L248.75 46.4 L250.77 51.88 L252.78 57.7 L254.8 63.8 L256.81 68.05 L258.83 73.65 L260.84 76.63 L262.86 80.5 L264.87 88.54 L266.89 92.79 L268.9 96.12 L270.92 95.77 L272.93 97.48 L274.95 101.28 L276.96 104.56 L278.98 106.74 L280.99 113.29 L283.01 112.64 L285.02 114.56 L287.04 113.92 L289.05 115.2 L291.07 115.56 L293.08 121.48 L295.1 120.06 L297.11 121.6 L299.13 121.34 L301.14 122.76 L303.16 123.26 L305.17 122.21 L307.19 121.24 L309.2 127.47 L311.22 124.91 L313.23 124.62 L315.25 125.43 L317.26 126.27 L319.28 127.88 L321.29 127.76 L323.31 126.1 L325.32 126.03 L327.34 127.56 L329.35 129.01 L331.37 128.19 L333.38 128.88 L335.4 128.2" fill="none" stroke="#2a2a2a" stroke-width="0.5"/>
<circle cx="218.53" cy="131.23" r="1.35" fill="#000"/>
<circle cx="220.54" cy="131.1" r="1.35" fill="#000"/>
<circle cx="222.56" cy="130.93" r="1.35" fill="#000"/>
<circle cx="224.57" cy="130.64" r="1.35" fill="#000"/>
<circle cx="226.59" cy="130.01" r="1.35" fill="#000"/>
<circle cx="228.6" cy="128.63" r="1.35" fill="#000"/>
<circle cx="230.62" cy="124.69" r="1.35" fill="#000"/>
<circle cx="232.63" cy="118.13" r="1.35" fill="#000"/>
<circle cx="234.65" cy="108.2" r="1.35" fill="#000"/>
<circle cx="236.66" cy="85.26" r="1.35" fill="#000"/>
<circle cx="238.68" cy="64.05" r="1.35" fill="#000"/>
<circle cx="240.69" cy="38.66" r="1.35" fill="#000"/>
<circle cx="242.71" cy="27.9" r="1.35" fill="#000"/>
<circle cx="244.72" cy="30.22" r="1.35" fill="#000"/>
<circle cx="246.74" cy="41.27" r="1.35" fill="#000"/>
<circle cx="248.75" cy="46.4" r="1.35" fill="#000"/>
<circle cx="250.77" cy="51.88" r="1.35" fill="#000"/>
<circle cx="252.78" cy="57.7" r="1.35" fill="#000"/>
<circle cx="254.8" cy="63.8" r="1.35" fill="#000"/>
<circle cx="256.81" cy="68.05" r="1.35" fill="#000"/>
<circle cx="258.83" cy="73.65" r="1.35" fill="#000"/>
<circle cx="260.84" cy="76.63" r="1.35" fill="#000"/>
<circle cx="262.86" cy="80.5" r="1.35" fill="#000"/>
<circle cx="264.87" cy="88.54" r="1.35" fill="#000"/>
<circle cx="266.89" cy="92.79" r="1.35" fill="#000"/>
<circle cx="268.9" cy="96.12" r="1.35" fill="#000"/>
<circle cx="270.92" cy="95.77" r="1.35" fill="#000"/>
<circle cx="272.93" cy="97.48" r="1.35" fill="#000"/>
<circle cx="274.95" cy="101.28" r="1.35" fill="#000"/>
<circle cx="276.96" cy="104.56" r="1.35" fill="#000"/>
<circle cx="278.98" cy="106.74" r="1.35" fill="#000"/>
<circle cx="280.99" cy="113.29" r="1.35" fill="#000"/>
<circle cx="283.01" cy="112.64" r="1.35" fill="#000"/>
<circle cx="285.02" cy="114.56" r="1.35" fill="#000"/>
<circle cx="287.04" cy="113.92" r="1.35" fill="#000"/>
<circle cx="289.05" cy="115.2" r="1.35" fill="#000"/>
<circle cx="291.07" cy="115.56" r="1.35" fill="#000"/>
<circle cx="293.08" cy="121.48" r="1.35" fill="#000"/>
<circle cx="295.1" cy="120.06" r="1.35" fill="#000"/>
<circle cx="297.11" cy="121.6" r="1.35" fill="#000"/>
<circle cx="299.13" cy="121.34" r="1.35" fill="#000"/>
<circle cx="301.14" cy="122.76" r="1.35" fill="#000"/>
<circle cx="303.16" cy="123.26" r="1.35" fill="#000"/>
<circle cx="305.17" cy="122.21" r="1.35" fill="#000"/>
<circle cx="307.19" cy="121.24" r="1.35" fill="#000"/>
<circle cx="309.2" cy="127.47" r="1.35" fill="#000"/>
<circle cx="311.22" cy="124.91" r="1.35" fill="#000"/>
<circle cx="313.23" cy="124.62" r="1.35" fill="#000"/>
<circle cx="315.25" cy="125.43" r="1.35" fill="#000"/>
<circle cx="317.26" cy="126.27" r="1.35" fill="#000"/>
<circle cx="319.28" cy="127.88" r="1.35" fill="#000"/>
<circle cx="321.29" cy="127.76" r="1.35" fill="#000"/>
<circle cx="323.31" cy="126.1" r="1.35" fill="#000"/>
<circle cx="325.32" cy="126.03" r="1.35" fill="#000"/>
<circle cx="327.34" cy="127.56" r="1.35" fill="#000"/>
<circle cx="329.35" cy="129.01" r="1.35" fill="#000"/>
<circle cx="331.37" cy="128.19" r="1.35" fill="#000"/>
<circle cx="333.38" cy="128.88" r="1.35" fill="#000"/>
<circle cx="335.4" cy="128.2" r="1.35" fill="#000"/>
<rect x="214.6" y="19.2" width="120.9" height="111.8" fill="none" stroke="#929292" stroke-width="1"/>
<line x1="214.6" y1="110.7" x2="216.6" y2="110.7" stroke="#a0a0a0" stroke-width="1"/>
<line x1="335.5" y1="110.7" x2="333.5" y2="110.7" stroke="#a0a0a0" stroke-width="1"/>
<line x1="214.6" y1="90.5" x2="216.6" y2="90.5" stroke="#a0a0a0" stroke-width="1"/>
<line x1="335.5" y1="90.5" x2="333.5" y2="90.5" stroke="#a0a0a0" stroke-width="1"/>
<line x1="214.6" y1="70.3" x2="216.6" y2="70.3" stroke="#a0a0a0" stroke-width="1"/>
<line x1="335.5" y1="70.3" x2="333.5" y2="70.3" stroke="#a0a0a0" stroke-width="1"/>
<line x1="214.6" y1="50.1" x2="216.6" y2="50.1" stroke="#a0a0a0" stroke-width="1"/>
<line x1="335.5" y1="50.1" x2="333.5" y2="50.1" stroke="#a0a0a0" stroke-width="1"/>
<line x1="214.6" y1="29.9" x2="216.6" y2="29.9" stroke="#a0a0a0" stroke-width="1"/>
<line x1="335.5" y1="29.9" x2="333.5" y2="29.9" stroke="#a0a0a0" stroke-width="1"/>
<line x1="244.82" y1="131" x2="244.82" y2="129" stroke="#a0a0a0" stroke-width="1"/>
<line x1="244.82" y1="19.2" x2="244.82" y2="21.2" stroke="#a0a0a0" stroke-width="1"/>
<line x1="275.05" y1="131" x2="275.05" y2="129" stroke="#a0a0a0" stroke-width="1"/>
<line x1="275.05" y1="19.2" x2="275.05" y2="21.2" stroke="#a0a0a0" stroke-width="1"/>
<line x1="305.27" y1="131" x2="305.27" y2="129" stroke="#a0a0a0" stroke-width="1"/>
<line x1="305.27" y1="19.2" x2="305.27" y2="21.2" stroke="#a0a0a0" stroke-width="1"/>
<text x="211.4" y="132" font-size="7" text-anchor="end" font-weight="normal" fill="#1c1c1c" stroke="#1c1c1c" stroke-width="0.21">0</text>
<text x="211.4" y="111.8" font-size="7" text-anchor="end" font-weight="normal" fill="#1c1c1c" stroke="#1c1c1c" stroke-width="0.21">100</text>
<text x="211.4" y="91.6" font-size="7" text-anchor="end" font-weight="normal" fill="#1c1c1c" stroke="#1c1c1c" stroke-width="0.21">200</text>
<text x="211.4" y="71.4" font-size="7" text-anchor="end" font-weight="normal" fill="#1c1c1c" stroke="#1c1c1c" stroke-width="0.21">300</text>
<text x="211.4" y="51.2" font-size="7" text-anchor="end" font-weight="normal" fill="#1c1c1c" stroke="#1c1c1c" stroke-width="0.21">400</text>
<text x="211.4" y="31" font-size="7" text-anchor="end" font-weight="normal" fill="#1c1c1c" stroke="#1c1c1c" stroke-width="0.21">500</text>
<text x="214.6" y="136.6" font-size="7" text-anchor="middle" font-weight="normal" fill="#1c1c1c" stroke="#1c1c1c" stroke-width="0.21">0</text>
<text x="244.82" y="136.6" font-size="7" text-anchor="middle" font-weight="normal" fill="#1c1c1c" stroke="#1c1c1c" stroke-width="0.21">5</text>
<text x="275.05" y="136.6" font-size="7" text-anchor="middle" font-weight="normal" fill="#1c1c1c" stroke="#1c1c1c" stroke-width="0.21">10</text>
<text x="305.27" y="136.6" font-size="7" text-anchor="middle" font-weight="normal" fill="#1c1c1c" stroke="#1c1c1c" stroke-width="0.21">15</text>
<text x="335.5" y="136.6" font-size="7" text-anchor="middle" font-weight="normal" fill="#1c1c1c" stroke="#1c1c1c" stroke-width="0.21">20</text>
<text x="275.05" y="147" font-size="7.2" text-anchor="middle" font-weight="normal" fill="#1c1c1c" stroke="#1c1c1c" stroke-width="0.22">Time (minutes)</text>
<text x="193.6" y="78.3" font-size="9" text-anchor="middle" font-weight="normal" fill="#1c1c1c" stroke="#1c1c1c" stroke-width="0.27" transform="rotate(-90 193.6 78.3)">Thrombin (nM)</text>
<text x="264.2" y="32.9" font-size="10" text-anchor="start" font-weight="normal" fill="#1c1c1c" stroke="#1c1c1c" stroke-width="0.3" textLength="63.4" lengthAdjust="spacingAndGlyphs">60% Confluent</text>
<path d="M392.72 131.21 L394.73 131.1 L396.74 130.99 L398.75 130.85 L400.76 130.7 L402.77 130.53 L404.78 130.34 L406.79 130.12 L408.8 129.85 L410.81 129.53 L412.82 129.08 L414.83 128.48 L416.84 127.63 L418.85 126.22 L420.86 124.46 L422.87 122.01 L424.88 117.76 L426.89 112.38 L428.9 107.47 L430.91 102.63 L432.92 97.45 L434.93 91.24 L436.94 84.7 L438.95 79.6 L440.96 77.62 L442.97 77.23 L444.98 78.47 L446.99 80.06 L449 81.14 L451.01 82.07 L453.02 84.61 L455.03 85.65 L457.04 87.53 L459.05 89.16 L461.06 90.11 L463.07 94.78 L465.08 97.3 L467.09 99.47 L469.1 103.02 L471.11 106.07 L473.12 108.51 L475.13 109.56 L477.14 111.3 L479.15 109.75 L481.16 112.46 L483.17 114.29 L485.18 115.64 L487.19 116.53 L489.2 116.92 L491.21 118.56 L493.22 116.97 L495.23 119.7 L497.24 120.46 L499.25 120.28 L501.26 120.01 L503.27 120.72 L505.28 122.72 L507.29 122.59 L509.3 123.08" fill="none" stroke="#cdcdcd" stroke-width="0.9"/>
<circle cx="392.72" cy="131.21" r="1.2" fill="#d0d0d0"/>
<circle cx="394.73" cy="131.1" r="1.2" fill="#d0d0d0"/>
<circle cx="396.74" cy="130.99" r="1.2" fill="#d0d0d0"/>
<circle cx="398.75" cy="130.85" r="1.2" fill="#d0d0d0"/>
<circle cx="400.76" cy="130.7" r="1.2" fill="#d0d0d0"/>
<circle cx="402.77" cy="130.53" r="1.2" fill="#d0d0d0"/>
<circle cx="404.78" cy="130.34" r="1.2" fill="#d0d0d0"/>
<circle cx="406.79" cy="130.12" r="1.2" fill="#d0d0d0"/>
<circle cx="408.8" cy="129.85" r="1.2" fill="#d0d0d0"/>
<circle cx="410.81" cy="129.53" r="1.2" fill="#d0d0d0"/>
<circle cx="412.82" cy="129.08" r="1.2" fill="#d0d0d0"/>
<circle cx="414.83" cy="128.48" r="1.2" fill="#d0d0d0"/>
<circle cx="416.84" cy="127.63" r="1.2" fill="#d0d0d0"/>
<circle cx="418.85" cy="126.22" r="1.2" fill="#d0d0d0"/>
<circle cx="420.86" cy="124.46" r="1.2" fill="#d0d0d0"/>
<circle cx="422.87" cy="122.01" r="1.2" fill="#d0d0d0"/>
<circle cx="424.88" cy="117.76" r="1.2" fill="#d0d0d0"/>
<circle cx="426.89" cy="112.38" r="1.2" fill="#d0d0d0"/>
<circle cx="428.9" cy="107.47" r="1.2" fill="#d0d0d0"/>
<circle cx="430.91" cy="102.63" r="1.2" fill="#d0d0d0"/>
<circle cx="432.92" cy="97.45" r="1.2" fill="#d0d0d0"/>
<circle cx="434.93" cy="91.24" r="1.2" fill="#d0d0d0"/>
<circle cx="436.94" cy="84.7" r="1.2" fill="#d0d0d0"/>
<circle cx="438.95" cy="79.6" r="1.2" fill="#d0d0d0"/>
<circle cx="440.96" cy="77.62" r="1.2" fill="#d0d0d0"/>
<circle cx="442.97" cy="77.23" r="1.2" fill="#d0d0d0"/>
<circle cx="444.98" cy="78.47" r="1.2" fill="#d0d0d0"/>
<circle cx="446.99" cy="80.06" r="1.2" fill="#d0d0d0"/>
<circle cx="449" cy="81.14" r="1.2" fill="#d0d0d0"/>
<circle cx="451.01" cy="82.07" r="1.2" fill="#d0d0d0"/>
<circle cx="453.02" cy="84.61" r="1.2" fill="#d0d0d0"/>
<circle cx="455.03" cy="85.65" r="1.2" fill="#d0d0d0"/>
<circle cx="457.04" cy="87.53" r="1.2" fill="#d0d0d0"/>
<circle cx="459.05" cy="89.16" r="1.2" fill="#d0d0d0"/>
<circle cx="461.06" cy="90.11" r="1.2" fill="#d0d0d0"/>
<circle cx="463.07" cy="94.78" r="1.2" fill="#d0d0d0"/>
<circle cx="465.08" cy="97.3" r="1.2" fill="#d0d0d0"/>
<circle cx="467.09" cy="99.47" r="1.2" fill="#d0d0d0"/>
<circle cx="469.1" cy="103.02" r="1.2" fill="#d0d0d0"/>
<circle cx="471.11" cy="106.07" r="1.2" fill="#d0d0d0"/>
<circle cx="473.12" cy="108.51" r="1.2" fill="#d0d0d0"/>
<circle cx="475.13" cy="109.56" r="1.2" fill="#d0d0d0"/>
<circle cx="477.14" cy="111.3" r="1.2" fill="#d0d0d0"/>
<circle cx="479.15" cy="109.75" r="1.2" fill="#d0d0d0"/>
<circle cx="481.16" cy="112.46" r="1.2" fill="#d0d0d0"/>
<circle cx="483.17" cy="114.29" r="1.2" fill="#d0d0d0"/>
<circle cx="485.18" cy="115.64" r="1.2" fill="#d0d0d0"/>
<circle cx="487.19" cy="116.53" r="1.2" fill="#d0d0d0"/>
<circle cx="489.2" cy="116.92" r="1.2" fill="#d0d0d0"/>
<circle cx="491.21" cy="118.56" r="1.2" fill="#d0d0d0"/>
<circle cx="493.22" cy="116.97" r="1.2" fill="#d0d0d0"/>
<circle cx="495.23" cy="119.7" r="1.2" fill="#d0d0d0"/>
<circle cx="497.24" cy="120.46" r="1.2" fill="#d0d0d0"/>
<circle cx="499.25" cy="120.28" r="1.2" fill="#d0d0d0"/>
<circle cx="501.26" cy="120.01" r="1.2" fill="#d0d0d0"/>
<circle cx="503.27" cy="120.72" r="1.2" fill="#d0d0d0"/>
<circle cx="505.28" cy="122.72" r="1.2" fill="#d0d0d0"/>
<circle cx="507.29" cy="122.59" r="1.2" fill="#d0d0d0"/>
<circle cx="509.3" cy="123.08" r="1.2" fill="#d0d0d0"/>
<path d="M392.72 131.21 L394.73 131.1 L396.74 130.99 L398.75 130.86 L400.76 130.7 L402.77 130.5 L404.78 130.25 L406.79 129.93 L408.8 129.52 L410.81 128.88 L412.82 128.11 L414.83 127.42 L416.84 126.42 L418.85 122.38 L420.86 116.4 L422.87 109.22 L424.88 99.63 L426.89 91.34 L428.9 82.77 L430.91 72.58 L432.92 65.58 L434.93 60.97 L436.94 59.17 L438.95 59.67 L440.96 61.2 L442.97 62.69 L444.98 66.11 L446.99 71.87 L449 75.48 L451.01 77.54 L453.02 78.93 L455.03 84.53 L457.04 87.89 L459.05 95.34 L461.06 91.21 L463.07 98.91 L465.08 100.76 L467.09 103.7 L469.1 105.19 L471.11 107.73 L473.12 111.39 L475.13 110.33 L477.14 112.98 L479.15 111.4 L481.16 117.02 L483.17 117.67 L485.18 116.03 L487.19 115.63 L489.2 119.04 L491.21 121.74 L493.22 121.13 L495.23 122.67 L497.24 118.01 L499.25 120.86 L501.26 120.63 L503.27 123.3 L505.28 125.69 L507.29 122.27 L509.3 121.55" fill="none" stroke="#2a2a2a" stroke-width="0.5"/>
<circle cx="392.72" cy="131.21" r="1.35" fill="#000"/>
<circle cx="394.73" cy="131.1" r="1.35" fill="#000"/>
<circle cx="396.74" cy="130.99" r="1.35" fill="#000"/>
<circle cx="398.75" cy="130.86" r="1.35" fill="#000"/>
<circle cx="400.76" cy="130.7" r="1.35" fill="#000"/>
<circle cx="402.77" cy="130.5" r="1.35" fill="#000"/>
<circle cx="404.78" cy="130.25" r="1.35" fill="#000"/>
<circle cx="406.79" cy="129.93" r="1.35" fill="#000"/>
<circle cx="408.8" cy="129.52" r="1.35" fill="#000"/>
<circle cx="410.81" cy="128.88" r="1.35" fill="#000"/>
<circle cx="412.82" cy="128.11" r="1.35" fill="#000"/>
<circle cx="414.83" cy="127.42" r="1.35" fill="#000"/>
<circle cx="416.84" cy="126.42" r="1.35" fill="#000"/>
<circle cx="418.85" cy="122.38" r="1.35" fill="#000"/>
<circle cx="420.86" cy="116.4" r="1.35" fill="#000"/>
<circle cx="422.87" cy="109.22" r="1.35" fill="#000"/>
<circle cx="424.88" cy="99.63" r="1.35" fill="#000"/>
<circle cx="426.89" cy="91.34" r="1.35" fill="#000"/>
<circle cx="428.9" cy="82.77" r="1.35" fill="#000"/>
<circle cx="430.91" cy="72.58" r="1.35" fill="#000"/>
<circle cx="432.92" cy="65.58" r="1.35" fill="#000"/>
<circle cx="434.93" cy="60.97" r="1.35" fill="#000"/>
<circle cx="436.94" cy="59.17" r="1.35" fill="#000"/>
<circle cx="438.95" cy="59.67" r="1.35" fill="#000"/>
<circle cx="440.96" cy="61.2" r="1.35" fill="#000"/>
<circle cx="442.97" cy="62.69" r="1.35" fill="#000"/>
<circle cx="444.98" cy="66.11" r="1.35" fill="#000"/>
<circle cx="446.99" cy="71.87" r="1.35" fill="#000"/>
<circle cx="449" cy="75.48" r="1.35" fill="#000"/>
<circle cx="451.01" cy="77.54" r="1.35" fill="#000"/>
<circle cx="453.02" cy="78.93" r="1.35" fill="#000"/>
<circle cx="455.03" cy="84.53" r="1.35" fill="#000"/>
<circle cx="457.04" cy="87.89" r="1.35" fill="#000"/>
<circle cx="459.05" cy="95.34" r="1.35" fill="#000"/>
<circle cx="461.06" cy="91.21" r="1.35" fill="#000"/>
<circle cx="463.07" cy="98.91" r="1.35" fill="#000"/>
<circle cx="465.08" cy="100.76" r="1.35" fill="#000"/>
<circle cx="467.09" cy="103.7" r="1.35" fill="#000"/>
<circle cx="469.1" cy="105.19" r="1.35" fill="#000"/>
<circle cx="471.11" cy="107.73" r="1.35" fill="#000"/>
<circle cx="473.12" cy="111.39" r="1.35" fill="#000"/>
<circle cx="475.13" cy="110.33" r="1.35" fill="#000"/>
<circle cx="477.14" cy="112.98" r="1.35" fill="#000"/>
<circle cx="479.15" cy="111.4" r="1.35" fill="#000"/>
<circle cx="481.16" cy="117.02" r="1.35" fill="#000"/>
<circle cx="483.17" cy="117.67" r="1.35" fill="#000"/>
<circle cx="485.18" cy="116.03" r="1.35" fill="#000"/>
<circle cx="487.19" cy="115.63" r="1.35" fill="#000"/>
<circle cx="489.2" cy="119.04" r="1.35" fill="#000"/>
<circle cx="491.21" cy="121.74" r="1.35" fill="#000"/>
<circle cx="493.22" cy="121.13" r="1.35" fill="#000"/>
<circle cx="495.23" cy="122.67" r="1.35" fill="#000"/>
<circle cx="497.24" cy="118.01" r="1.35" fill="#000"/>
<circle cx="499.25" cy="120.86" r="1.35" fill="#000"/>
<circle cx="501.26" cy="120.63" r="1.35" fill="#000"/>
<circle cx="503.27" cy="123.3" r="1.35" fill="#000"/>
<circle cx="505.28" cy="125.69" r="1.35" fill="#000"/>
<circle cx="507.29" cy="122.27" r="1.35" fill="#000"/>
<circle cx="509.3" cy="121.55" r="1.35" fill="#000"/>
<path d="M392.72 131.21 L394.73 131.1 L396.74 130.99 L398.75 130.87 L400.76 130.7 L402.77 130.48 L404.78 130.16 L406.79 129.71 L408.8 128.86 L410.81 127.49 L412.82 125.66 L414.83 122.34 L416.84 115.19 L418.85 104.05 L420.86 90.89 L422.87 80.8 L424.88 69.12 L426.89 54.3 L428.9 49.49 L430.91 46.09 L432.92 47.29 L434.93 51.81 L436.94 57.11 L438.95 62.59 L440.96 65.96 L442.97 72.49 L444.98 75.83 L446.99 82.4 L449 86.97 L451.01 88.98 L453.02 92.07 L455.03 94.33 L457.04 94.66 L459.05 97.6 L461.06 105.89 L463.07 104.61 L465.08 106.34 L467.09 110.78 L469.1 109.27 L471.11 114 L473.12 108.86 L475.13 113.71 L477.14 114.52 L479.15 112.84 L481.16 116.92 L483.17 116.27 L485.18 120.91 L487.19 120.8 L489.2 123.53 L491.21 121.74 L493.22 119.75 L495.23 122.21 L497.24 121.37 L499.25 126.21 L501.26 126.45 L503.27 126.04 L505.28 124.2 L507.29 125.1 L509.3 126.27" fill="none" stroke="#2a2a2a" stroke-width="0.5"/>
<circle cx="392.72" cy="131.21" r="1.35" fill="#000"/>
<circle cx="394.73" cy="131.1" r="1.35" fill="#000"/>
<circle cx="396.74" cy="130.99" r="1.35" fill="#000"/>
<circle cx="398.75" cy="130.87" r="1.35" fill="#000"/>
<circle cx="400.76" cy="130.7" r="1.35" fill="#000"/>
<circle cx="402.77" cy="130.48" r="1.35" fill="#000"/>
<circle cx="404.78" cy="130.16" r="1.35" fill="#000"/>
<circle cx="406.79" cy="129.71" r="1.35" fill="#000"/>
<circle cx="408.8" cy="128.86" r="1.35" fill="#000"/>
<circle cx="410.81" cy="127.49" r="1.35" fill="#000"/>
<circle cx="412.82" cy="125.66" r="1.35" fill="#000"/>
<circle cx="414.83" cy="122.34" r="1.35" fill="#000"/>
<circle cx="416.84" cy="115.19" r="1.35" fill="#000"/>
<circle cx="418.85" cy="104.05" r="1.35" fill="#000"/>
<circle cx="420.86" cy="90.89" r="1.35" fill="#000"/>
<circle cx="422.87" cy="80.8" r="1.35" fill="#000"/>
<circle cx="424.88" cy="69.12" r="1.35" fill="#000"/>
<circle cx="426.89" cy="54.3" r="1.35" fill="#000"/>
<circle cx="428.9" cy="49.49" r="1.35" fill="#000"/>
<circle cx="430.91" cy="46.09" r="1.35" fill="#000"/>
<circle cx="432.92" cy="47.29" r="1.35" fill="#000"/>
<circle cx="434.93" cy="51.81" r="1.35" fill="#000"/>
<circle cx="436.94" cy="57.11" r="1.35" fill="#000"/>
<circle cx="438.95" cy="62.59" r="1.35" fill="#000"/>
<circle cx="440.96" cy="65.96" r="1.35" fill="#000"/>
<circle cx="442.97" cy="72.49" r="1.35" fill="#000"/>
<circle cx="444.98" cy="75.83" r="1.35" fill="#000"/>
<circle cx="446.99" cy="82.4" r="1.35" fill="#000"/>
<circle cx="449" cy="86.97" r="1.35" fill="#000"/>
<circle cx="451.01" cy="88.98" r="1.35" fill="#000"/>
<circle cx="453.02" cy="92.07" r="1.35" fill="#000"/>
<circle cx="455.03" cy="94.33" r="1.35" fill="#000"/>
<circle cx="457.04" cy="94.66" r="1.35" fill="#000"/>
<circle cx="459.05" cy="97.6" r="1.35" fill="#000"/>
<circle cx="461.06" cy="105.89" r="1.35" fill="#000"/>
<circle cx="463.07" cy="104.61" r="1.35" fill="#000"/>
<circle cx="465.08" cy="106.34" r="1.35" fill="#000"/>
<circle cx="467.09" cy="110.78" r="1.35" fill="#000"/>
<circle cx="469.1" cy="109.27" r="1.35" fill="#000"/>
<circle cx="471.11" cy="114" r="1.35" fill="#000"/>
<circle cx="473.12" cy="108.86" r="1.35" fill="#000"/>
<circle cx="475.13" cy="113.71" r="1.35" fill="#000"/>
<circle cx="477.14" cy="114.52" r="1.35" fill="#000"/>
<circle cx="479.15" cy="112.84" r="1.35" fill="#000"/>
<circle cx="481.16" cy="116.92" r="1.35" fill="#000"/>
<circle cx="483.17" cy="116.27" r="1.35" fill="#000"/>
<circle cx="485.18" cy="120.91" r="1.35" fill="#000"/>
<circle cx="487.19" cy="120.8" r="1.35" fill="#000"/>
<circle cx="489.2" cy="123.53" r="1.35" fill="#000"/>
<circle cx="491.21" cy="121.74" r="1.35" fill="#000"/>
<circle cx="493.22" cy="119.75" r="1.35" fill="#000"/>
<circle cx="495.23" cy="122.21" r="1.35" fill="#000"/>
<circle cx="497.24" cy="121.37" r="1.35" fill="#000"/>
<circle cx="499.25" cy="126.21" r="1.35" fill="#000"/>
<circle cx="501.26" cy="126.45" r="1.35" fill="#000"/>
<circle cx="503.27" cy="126.04" r="1.35" fill="#000"/>
<circle cx="505.28" cy="124.2" r="1.35" fill="#000"/>
<circle cx="507.29" cy="125.1" r="1.35" fill="#000"/>
<circle cx="509.3" cy="126.27" r="1.35" fill="#000"/>
<path d="M392.72 131.21 L394.73 131.1 L396.74 131 L398.75 130.87 L400.76 130.7 L402.77 130.41 L404.78 129.94 L406.79 129.3 L408.8 128.19 L410.81 125.28 L412.82 118.26 L414.83 108.28 L416.84 96.4 L418.85 75.22 L420.86 61.41 L422.87 48.75 L424.88 40.93 L426.89 38.27 L428.9 42.25 L430.91 51.62 L432.92 59.77 L434.93 65.39 L436.94 68.42 L438.95 70.27 L440.96 74.85 L442.97 80.26 L444.98 85.74 L446.99 92.59 L449 90.1 L451.01 94.68 L453.02 95.05 L455.03 97.14 L457.04 102.65 L459.05 105.8 L461.06 103.16 L463.07 107.65 L465.08 119.26 L467.09 121.82 L469.1 115.36 L471.11 114.15 L473.12 113.44 L475.13 117.94 L477.14 118.57 L479.15 118.91 L481.16 116.95 L483.17 122.41 L485.18 121 L487.19 123.66 L489.2 121.82 L491.21 126.64 L493.22 123.08 L495.23 125.72 L497.24 125.71 L499.25 124.56 L501.26 123.67 L503.27 130.42 L505.28 124.82 L507.29 126.15 L509.3 128.31" fill="none" stroke="#2a2a2a" stroke-width="0.5"/>
<circle cx="392.72" cy="131.21" r="1.35" fill="#000"/>
<circle cx="394.73" cy="131.1" r="1.35" fill="#000"/>
<circle cx="396.74" cy="131" r="1.35" fill="#000"/>
<circle cx="398.75" cy="130.87" r="1.35" fill="#000"/>
<circle cx="400.76" cy="130.7" r="1.35" fill="#000"/>
<circle cx="402.77" cy="130.41" r="1.35" fill="#000"/>
<circle cx="404.78" cy="129.94" r="1.35" fill="#000"/>
<circle cx="406.79" cy="129.3" r="1.35" fill="#000"/>
<circle cx="408.8" cy="128.19" r="1.35" fill="#000"/>
<circle cx="410.81" cy="125.28" r="1.35" fill="#000"/>
<circle cx="412.82" cy="118.26" r="1.35" fill="#000"/>
<circle cx="414.83" cy="108.28" r="1.35" fill="#000"/>
<circle cx="416.84" cy="96.4" r="1.35" fill="#000"/>
<circle cx="418.85" cy="75.22" r="1.35" fill="#000"/>
<circle cx="420.86" cy="61.41" r="1.35" fill="#000"/>
<circle cx="422.87" cy="48.75" r="1.35" fill="#000"/>
<circle cx="424.88" cy="40.93" r="1.35" fill="#000"/>
<circle cx="426.89" cy="38.27" r="1.35" fill="#000"/>
<circle cx="428.9" cy="42.25" r="1.35" fill="#000"/>
<circle cx="430.91" cy="51.62" r="1.35" fill="#000"/>
<circle cx="432.92" cy="59.77" r="1.35" fill="#000"/>
<circle cx="434.93" cy="65.39" r="1.35" fill="#000"/>
<circle cx="436.94" cy="68.42" r="1.35" fill="#000"/>
<circle cx="438.95" cy="70.27" r="1.35" fill="#000"/>
<circle cx="440.96" cy="74.85" r="1.35" fill="#000"/>
<circle cx="442.97" cy="80.26" r="1.35" fill="#000"/>
<circle cx="444.98" cy="85.74" r="1.35" fill="#000"/>
<circle cx="446.99" cy="92.59" r="1.35" fill="#000"/>
<circle cx="449" cy="90.1" r="1.35" fill="#000"/>
<circle cx="451.01" cy="94.68" r="1.35" fill="#000"/>
<circle cx="453.02" cy="95.05" r="1.35" fill="#000"/>
<circle cx="455.03" cy="97.14" r="1.35" fill="#000"/>
<circle cx="457.04" cy="102.65" r="1.35" fill="#000"/>
<circle cx="459.05" cy="105.8" r="1.35" fill="#000"/>
<circle cx="461.06" cy="103.16" r="1.35" fill="#000"/>
<circle cx="463.07" cy="107.65" r="1.35" fill="#000"/>
<circle cx="465.08" cy="119.26" r="1.35" fill="#000"/>
<circle cx="467.09" cy="121.82" r="1.35" fill="#000"/>
<circle cx="469.1" cy="115.36" r="1.35" fill="#000"/>
<circle cx="471.11" cy="114.15" r="1.35" fill="#000"/>
<circle cx="473.12" cy="113.44" r="1.35" fill="#000"/>
<circle cx="475.13" cy="117.94" r="1.35" fill="#000"/>
<circle cx="477.14" cy="118.57" r="1.35" fill="#000"/>
<circle cx="479.15" cy="118.91" r="1.35" fill="#000"/>
<circle cx="481.16" cy="116.95" r="1.35" fill="#000"/>
<circle cx="483.17" cy="122.41" r="1.35" fill="#000"/>
<circle cx="485.18" cy="121" r="1.35" fill="#000"/>
<circle cx="487.19" cy="123.66" r="1.35" fill="#000"/>
<circle cx="489.2" cy="121.82" r="1.35" fill="#000"/>
<circle cx="491.21" cy="126.64" r="1.35" fill="#000"/>
<circle cx="493.22" cy="123.08" r="1.35" fill="#000"/>
<circle cx="495.23" cy="125.72" r="1.35" fill="#000"/>
<circle cx="497.24" cy="125.71" r="1.35" fill="#000"/>
<circle cx="499.25" cy="124.56" r="1.35" fill="#000"/>
<circle cx="501.26" cy="123.67" r="1.35" fill="#000"/>
<circle cx="503.27" cy="130.42" r="1.35" fill="#000"/>
<circle cx="505.28" cy="124.82" r="1.35" fill="#000"/>
<circle cx="507.29" cy="126.15" r="1.35" fill="#000"/>
<circle cx="509.3" cy="128.31" r="1.35" fill="#000"/>
<rect x="388.8" y="19.2" width="120.6" height="111.8" fill="none" stroke="#929292" stroke-width="1"/>
<line x1="388.8" y1="110.7" x2="390.8" y2="110.7" stroke="#a0a0a0" stroke-width="1"/>
<line x1="509.4" y1="110.7" x2="507.4" y2="110.7" stroke="#a0a0a0" stroke-width="1"/>
<line x1="388.8" y1="90.5" x2="390.8" y2="90.5" stroke="#a0a0a0" stroke-width="1"/>
<line x1="509.4" y1="90.5" x2="507.4" y2="90.5" stroke="#a0a0a0" stroke-width="1"/>
<line x1="388.8" y1="70.3" x2="390.8" y2="70.3" stroke="#a0a0a0" stroke-width="1"/>
<line x1="509.4" y1="70.3" x2="507.4" y2="70.3" stroke="#a0a0a0" stroke-width="1"/>
<line x1="388.8" y1="50.1" x2="390.8" y2="50.1" stroke="#a0a0a0" stroke-width="1"/>
<line x1="509.4" y1="50.1" x2="507.4" y2="50.1" stroke="#a0a0a0" stroke-width="1"/>
<line x1="388.8" y1="29.9" x2="390.8" y2="29.9" stroke="#a0a0a0" stroke-width="1"/>
<line x1="509.4" y1="29.9" x2="507.4" y2="29.9" stroke="#a0a0a0" stroke-width="1"/>
<line x1="418.95" y1="131" x2="418.95" y2="129" stroke="#a0a0a0" stroke-width="1"/>
<line x1="418.95" y1="19.2" x2="418.95" y2="21.2" stroke="#a0a0a0" stroke-width="1"/>
<line x1="449.1" y1="131" x2="449.1" y2="129" stroke="#a0a0a0" stroke-width="1"/>
<line x1="449.1" y1="19.2" x2="449.1" y2="21.2" stroke="#a0a0a0" stroke-width="1"/>
<line x1="479.25" y1="131" x2="479.25" y2="129" stroke="#a0a0a0" stroke-width="1"/>
<line x1="479.25" y1="19.2" x2="479.25" y2="21.2" stroke="#a0a0a0" stroke-width="1"/>
<text x="385.6" y="132" font-size="7" text-anchor="end" font-weight="normal" fill="#1c1c1c" stroke="#1c1c1c" stroke-width="0.21">0</text>
<text x="385.6" y="111.8" font-size="7" text-anchor="end" font-weight="normal" fill="#1c1c1c" stroke="#1c1c1c" stroke-width="0.21">100</text>
<text x="385.6" y="91.6" font-size="7" text-anchor="end" font-weight="normal" fill="#1c1c1c" stroke="#1c1c1c" stroke-width="0.21">200</text>
<text x="385.6" y="71.4" font-size="7" text-anchor="end" font-weight="normal" fill="#1c1c1c" stroke="#1c1c1c" stroke-width="0.21">300</text>
<text x="385.6" y="51.2" font-size="7" text-anchor="end" font-weight="normal" fill="#1c1c1c" stroke="#1c1c1c" stroke-width="0.21">400</text>
<text x="385.6" y="31" font-size="7" text-anchor="end" font-weight="normal" fill="#1c1c1c" stroke="#1c1c1c" stroke-width="0.21">500</text>
<text x="388.8" y="136.6" font-size="7" text-anchor="middle" font-weight="normal" fill="#1c1c1c" stroke="#1c1c1c" stroke-width="0.21">0</text>
<text x="418.95" y="136.6" font-size="7" text-anchor="middle" font-weight="normal" fill="#1c1c1c" stroke="#1c1c1c" stroke-width="0.21">5</text>
<text x="449.1" y="136.6" font-size="7" text-anchor="middle" font-weight="normal" fill="#1c1c1c" stroke="#1c1c1c" stroke-width="0.21">10</text>
<text x="479.25" y="136.6" font-size="7" text-anchor="middle" font-weight="normal" fill="#1c1c1c" stroke="#1c1c1c" stroke-width="0.21">15</text>
<text x="509.4" y="136.6" font-size="7" text-anchor="middle" font-weight="normal" fill="#1c1c1c" stroke="#1c1c1c" stroke-width="0.21">20</text>
<text x="449.1" y="147" font-size="7.2" text-anchor="middle" font-weight="normal" fill="#1c1c1c" stroke="#1c1c1c" stroke-width="0.22">Time (minutes)</text>
<text x="367.9" y="75" font-size="9" text-anchor="middle" font-weight="normal" fill="#1c1c1c" stroke="#1c1c1c" stroke-width="0.27" transform="rotate(-90 367.9 75)">Thrombin (nM)</text>
<text x="439.9" y="31.9" font-size="10" text-anchor="start" font-weight="normal" fill="#1c1c1c" stroke="#1c1c1c" stroke-width="0.3" textLength="63.5" lengthAdjust="spacingAndGlyphs">20% Confluent</text>
<rect x="39.65" y="240.75" width="31.8" height="42.05" fill="#000000" stroke="#000000" stroke-width="0.7"/>
<rect x="79.85" y="235.05" width="31.5" height="47.75" fill="#2e2e2e" stroke="#161616" stroke-width="0.7"/>
<rect x="120.55" y="207.25" width="31.4" height="75.55" fill="#575757" stroke="#3a3a3a" stroke-width="0.7"/>
<line x1="55.6" y1="231.2" x2="55.6" y2="240.4" stroke="#8e8e8e" stroke-width="0.85"/>
<line x1="54.6" y1="231.2" x2="56.6" y2="231.2" stroke="#8e8e8e" stroke-width="0.8"/>
<line x1="95.9" y1="223.6" x2="95.9" y2="234.7" stroke="#8e8e8e" stroke-width="0.85"/>
<line x1="95.9" y1="234.7" x2="95.9" y2="245.8" stroke="#7a7a7a" stroke-width="0.8"/>
<line x1="94.9" y1="223.6" x2="96.9" y2="223.6" stroke="#8e8e8e" stroke-width="0.8"/>
<line x1="136.2" y1="193.6" x2="136.2" y2="206.9" stroke="#8e8e8e" stroke-width="0.85"/>
<line x1="136.2" y1="206.9" x2="136.2" y2="221.1" stroke="#7a7a7a" stroke-width="0.8"/>
<line x1="135.2" y1="193.6" x2="137.2" y2="193.6" stroke="#8e8e8e" stroke-width="0.8"/>
<rect x="35.5" y="177.5" width="120.7" height="105.3" fill="none" stroke="#929292" stroke-width="1"/>
<line x1="35.5" y1="267.76" x2="37.5" y2="267.76" stroke="#a0a0a0" stroke-width="1"/>
<line x1="156.2" y1="267.76" x2="154.2" y2="267.76" stroke="#a0a0a0" stroke-width="1"/>
<line x1="35.5" y1="252.71" x2="37.5" y2="252.71" stroke="#a0a0a0" stroke-width="1"/>
<line x1="156.2" y1="252.71" x2="154.2" y2="252.71" stroke="#a0a0a0" stroke-width="1"/>
<line x1="35.5" y1="237.67" x2="37.5" y2="237.67" stroke="#a0a0a0" stroke-width="1"/>
<line x1="156.2" y1="237.67" x2="154.2" y2="237.67" stroke="#a0a0a0" stroke-width="1"/>
<line x1="35.5" y1="222.63" x2="37.5" y2="222.63" stroke="#a0a0a0" stroke-width="1"/>
<line x1="156.2" y1="222.63" x2="154.2" y2="222.63" stroke="#a0a0a0" stroke-width="1"/>
<line x1="35.5" y1="207.59" x2="37.5" y2="207.59" stroke="#a0a0a0" stroke-width="1"/>
<line x1="156.2" y1="207.59" x2="154.2" y2="207.59" stroke="#a0a0a0" stroke-width="1"/>
<line x1="35.5" y1="192.54" x2="37.5" y2="192.54" stroke="#a0a0a0" stroke-width="1"/>
<line x1="156.2" y1="192.54" x2="154.2" y2="192.54" stroke="#a0a0a0" stroke-width="1"/>
<line x1="75.73" y1="282.8" x2="75.73" y2="280.8" stroke="#a0a0a0" stroke-width="1"/>
<line x1="75.73" y1="177.5" x2="75.73" y2="179.5" stroke="#a0a0a0" stroke-width="1"/>
<line x1="115.97" y1="282.8" x2="115.97" y2="280.8" stroke="#a0a0a0" stroke-width="1"/>
<line x1="115.97" y1="177.5" x2="115.97" y2="179.5" stroke="#a0a0a0" stroke-width="1"/>
<text x="31.9" y="284.3" font-size="7" text-anchor="end" font-weight="normal" fill="#1c1c1c" stroke="#1c1c1c" stroke-width="0.21">0</text>
<text x="31.9" y="269.26" font-size="7" text-anchor="end" font-weight="normal" fill="#1c1c1c" stroke="#1c1c1c" stroke-width="0.21">1</text>
<text x="31.9" y="254.21" font-size="7" text-anchor="end" font-weight="normal" fill="#1c1c1c" stroke="#1c1c1c" stroke-width="0.21">2</text>
<text x="31.9" y="239.17" font-size="7" text-anchor="end" font-weight="normal" fill="#1c1c1c" stroke="#1c1c1c" stroke-width="0.21">3</text>
<text x="31.9" y="224.13" font-size="7" text-anchor="end" font-weight="normal" fill="#1c1c1c" stroke="#1c1c1c" stroke-width="0.21">4</text>
<text x="31.9" y="209.09" font-size="7" text-anchor="end" font-weight="normal" fill="#1c1c1c" stroke="#1c1c1c" stroke-width="0.21">5</text>
<text x="31.9" y="194.04" font-size="7" text-anchor="end" font-weight="normal" fill="#1c1c1c" stroke="#1c1c1c" stroke-width="0.21">6</text>
<text x="31.9" y="179" font-size="7" text-anchor="end" font-weight="normal" fill="#1c1c1c" stroke="#1c1c1c" stroke-width="0.21">7</text>
<text x="54.6" y="290.2" font-size="7" text-anchor="middle" font-weight="normal" fill="#1c1c1c" stroke="#1c1c1c" stroke-width="0.21">100</text>
<text x="96.4" y="290.2" font-size="7" text-anchor="middle" font-weight="normal" fill="#1c1c1c" stroke="#1c1c1c" stroke-width="0.21">60</text>
<text x="137.3" y="290.2" font-size="7" text-anchor="middle" font-weight="normal" fill="#1c1c1c" stroke="#1c1c1c" stroke-width="0.21">20</text>
<text x="98.5" y="298.6" font-size="6.8" text-anchor="middle" font-weight="normal" fill="#1c1c1c" stroke="#1c1c1c" stroke-width="0.2">% Confluent</text>
<text x="21" y="230" font-size="6.95" text-anchor="middle" font-weight="normal" fill="#1c1c1c" stroke="#1c1c1c" stroke-width="0.21" transform="rotate(-90 21 230)">Lag Time (minutes)</text>
<line x1="54.5" y1="184" x2="136.4" y2="184" stroke="#9c9c9c" stroke-width="0.9"/>
<circle cx="95.2" cy="180.8" r="1.05" fill="#111"/>
<path d="M95.2 179 L95.2 182.6 M93.64 179.9 L96.76 181.7 M96.76 179.9 L93.64 181.7" stroke="#111" stroke-width="0.75" fill="none"/>
<line x1="94" y1="189.2" x2="136.4" y2="189.2" stroke="#9c9c9c" stroke-width="0.9"/>
<circle cx="114.4" cy="187.2" r="1.05" fill="#111"/>
<path d="M114.4 185.4 L114.4 189 M112.84 186.3 L115.96 188.1 M115.96 186.3 L112.84 188.1" stroke="#111" stroke-width="0.75" fill="none"/>
<rect x="219.15" y="227.25" width="31.5" height="55.55" fill="#000000" stroke="#000000" stroke-width="0.7"/>
<rect x="259.35" y="239.65" width="31.7" height="43.15" fill="#2e2e2e" stroke="#161616" stroke-width="0.7"/>
<rect x="299.55" y="262.65" width="32.1" height="20.15" fill="#575757" stroke="#3a3a3a" stroke-width="0.7"/>
<line x1="234.8" y1="209.1" x2="234.8" y2="226.9" stroke="#8e8e8e" stroke-width="0.85"/>
<line x1="233.8" y1="209.1" x2="235.8" y2="209.1" stroke="#8e8e8e" stroke-width="0.8"/>
<line x1="275" y1="224.2" x2="275" y2="239.3" stroke="#8e8e8e" stroke-width="0.85"/>
<line x1="275" y1="239.3" x2="275" y2="255.5" stroke="#7a7a7a" stroke-width="0.8"/>
<line x1="274" y1="224.2" x2="276" y2="224.2" stroke="#8e8e8e" stroke-width="0.8"/>
<line x1="315.5" y1="255.1" x2="315.5" y2="262.3" stroke="#8e8e8e" stroke-width="0.85"/>
<line x1="315.5" y1="262.3" x2="315.5" y2="271.3" stroke="#7a7a7a" stroke-width="0.8"/>
<line x1="314.5" y1="255.1" x2="316.5" y2="255.1" stroke="#8e8e8e" stroke-width="0.8"/>
<rect x="214.6" y="177.5" width="120.7" height="105.3" fill="none" stroke="#929292" stroke-width="1"/>
<line x1="214.6" y1="269.64" x2="216.6" y2="269.64" stroke="#a0a0a0" stroke-width="1"/>
<line x1="335.3" y1="269.64" x2="333.3" y2="269.64" stroke="#a0a0a0" stroke-width="1"/>
<line x1="214.6" y1="256.48" x2="216.6" y2="256.48" stroke="#a0a0a0" stroke-width="1"/>
<line x1="335.3" y1="256.48" x2="333.3" y2="256.48" stroke="#a0a0a0" stroke-width="1"/>
<line x1="214.6" y1="243.31" x2="216.6" y2="243.31" stroke="#a0a0a0" stroke-width="1"/>
<line x1="335.3" y1="243.31" x2="333.3" y2="243.31" stroke="#a0a0a0" stroke-width="1"/>
<line x1="214.6" y1="230.15" x2="216.6" y2="230.15" stroke="#a0a0a0" stroke-width="1"/>
<line x1="335.3" y1="230.15" x2="333.3" y2="230.15" stroke="#a0a0a0" stroke-width="1"/>
<line x1="214.6" y1="216.99" x2="216.6" y2="216.99" stroke="#a0a0a0" stroke-width="1"/>
<line x1="335.3" y1="216.99" x2="333.3" y2="216.99" stroke="#a0a0a0" stroke-width="1"/>
<line x1="214.6" y1="203.82" x2="216.6" y2="203.82" stroke="#a0a0a0" stroke-width="1"/>
<line x1="335.3" y1="203.82" x2="333.3" y2="203.82" stroke="#a0a0a0" stroke-width="1"/>
<line x1="214.6" y1="190.66" x2="216.6" y2="190.66" stroke="#a0a0a0" stroke-width="1"/>
<line x1="335.3" y1="190.66" x2="333.3" y2="190.66" stroke="#a0a0a0" stroke-width="1"/>
<line x1="254.83" y1="282.8" x2="254.83" y2="280.8" stroke="#a0a0a0" stroke-width="1"/>
<line x1="254.83" y1="177.5" x2="254.83" y2="179.5" stroke="#a0a0a0" stroke-width="1"/>
<line x1="295.07" y1="282.8" x2="295.07" y2="280.8" stroke="#a0a0a0" stroke-width="1"/>
<line x1="295.07" y1="177.5" x2="295.07" y2="179.5" stroke="#a0a0a0" stroke-width="1"/>
<text x="211" y="284.3" font-size="7" text-anchor="end" font-weight="normal" fill="#1c1c1c" stroke="#1c1c1c" stroke-width="0.21">0</text>
<text x="211" y="271.14" font-size="7" text-anchor="end" font-weight="normal" fill="#1c1c1c" stroke="#1c1c1c" stroke-width="0.21">50</text>
<text x="211" y="257.98" font-size="7" text-anchor="end" font-weight="normal" fill="#1c1c1c" stroke="#1c1c1c" stroke-width="0.21">100</text>
<text x="211" y="244.81" font-size="7" text-anchor="end" font-weight="normal" fill="#1c1c1c" stroke="#1c1c1c" stroke-width="0.21">150</text>
<text x="211" y="231.65" font-size="7" text-anchor="end" font-weight="normal" fill="#1c1c1c" stroke="#1c1c1c" stroke-width="0.21">200</text>
<text x="211" y="218.49" font-size="7" text-anchor="end" font-weight="normal" fill="#1c1c1c" stroke="#1c1c1c" stroke-width="0.21">250</text>
<text x="211" y="205.32" font-size="7" text-anchor="end" font-weight="normal" fill="#1c1c1c" stroke="#1c1c1c" stroke-width="0.21">300</text>
<text x="211" y="192.16" font-size="7" text-anchor="end" font-weight="normal" fill="#1c1c1c" stroke="#1c1c1c" stroke-width="0.21">350</text>
<text x="211" y="179" font-size="7" text-anchor="end" font-weight="normal" fill="#1c1c1c" stroke="#1c1c1c" stroke-width="0.21">400</text>
<text x="234" y="290.2" font-size="7" text-anchor="middle" font-weight="normal" fill="#1c1c1c" stroke="#1c1c1c" stroke-width="0.21">100</text>
<text x="274.9" y="290.2" font-size="7" text-anchor="middle" font-weight="normal" fill="#1c1c1c" stroke="#1c1c1c" stroke-width="0.21">60</text>
<text x="315.5" y="290.2" font-size="7" text-anchor="middle" font-weight="normal" fill="#1c1c1c" stroke="#1c1c1c" stroke-width="0.21">20</text>
<text x="277.7" y="298.6" font-size="6.8" text-anchor="middle" font-weight="normal" fill="#1c1c1c" stroke="#1c1c1c" stroke-width="0.2">% Confluent</text>
<text x="197.6" y="230.7" font-size="6.95" text-anchor="middle" font-weight="normal" fill="#1c1c1c" stroke="#1c1c1c" stroke-width="0.21" transform="rotate(-90 197.6 230.7)">Rate (nM Thrombin/min)</text>
<line x1="234.4" y1="196.1" x2="315.7" y2="196.1" stroke="#9c9c9c" stroke-width="0.9"/>
<circle cx="271.1" cy="192.1" r="1.05" fill="#111"/>
<path d="M271.1 190.3 L271.1 193.9 M269.54 191.2 L272.66 193 M272.66 191.2 L269.54 193" stroke="#111" stroke-width="0.75" fill="none"/>
<line x1="273.4" y1="205.3" x2="315.7" y2="205.3" stroke="#9c9c9c" stroke-width="0.9"/>
<circle cx="294.1" cy="201.6" r="1.05" fill="#111"/>
<path d="M294.1 199.8 L294.1 203.4 M292.54 200.7 L295.66 202.5 M295.66 200.7 L292.54 202.5" stroke="#111" stroke-width="0.75" fill="none"/>
<rect x="397.45" y="200.35" width="31.2" height="82.45" fill="#000000" stroke="#000000" stroke-width="0.7"/>
<rect x="437.65" y="208.95" width="31.8" height="73.85" fill="#2e2e2e" stroke="#161616" stroke-width="0.7"/>
<rect x="478.35" y="229.55" width="31.4" height="53.25" fill="#575757" stroke="#3a3a3a" stroke-width="0.7"/>
<line x1="413.2" y1="187.5" x2="413.2" y2="200" stroke="#8e8e8e" stroke-width="0.85"/>
<line x1="412.2" y1="187.5" x2="414.2" y2="187.5" stroke="#8e8e8e" stroke-width="0.8"/>
<line x1="453.5" y1="194.8" x2="453.5" y2="208.6" stroke="#8e8e8e" stroke-width="0.85"/>
<line x1="453.5" y1="208.6" x2="453.5" y2="222.5" stroke="#7a7a7a" stroke-width="0.8"/>
<line x1="452.5" y1="194.8" x2="454.5" y2="194.8" stroke="#8e8e8e" stroke-width="0.8"/>
<line x1="494" y1="216.9" x2="494" y2="229.2" stroke="#8e8e8e" stroke-width="0.85"/>
<line x1="494" y1="229.2" x2="494" y2="241.1" stroke="#7a7a7a" stroke-width="0.8"/>
<line x1="493" y1="216.9" x2="495" y2="216.9" stroke="#8e8e8e" stroke-width="0.8"/>
<rect x="393.1" y="177.5" width="119.1" height="105.3" fill="none" stroke="#929292" stroke-width="1"/>
<line x1="393.1" y1="265.25" x2="395.1" y2="265.25" stroke="#a0a0a0" stroke-width="1"/>
<line x1="512.2" y1="265.25" x2="510.2" y2="265.25" stroke="#a0a0a0" stroke-width="1"/>
<line x1="393.1" y1="247.7" x2="395.1" y2="247.7" stroke="#a0a0a0" stroke-width="1"/>
<line x1="512.2" y1="247.7" x2="510.2" y2="247.7" stroke="#a0a0a0" stroke-width="1"/>
<line x1="393.1" y1="230.15" x2="395.1" y2="230.15" stroke="#a0a0a0" stroke-width="1"/>
<line x1="512.2" y1="230.15" x2="510.2" y2="230.15" stroke="#a0a0a0" stroke-width="1"/>
<line x1="393.1" y1="212.6" x2="395.1" y2="212.6" stroke="#a0a0a0" stroke-width="1"/>
<line x1="512.2" y1="212.6" x2="510.2" y2="212.6" stroke="#a0a0a0" stroke-width="1"/>
<line x1="393.1" y1="195.05" x2="395.1" y2="195.05" stroke="#a0a0a0" stroke-width="1"/>
<line x1="512.2" y1="195.05" x2="510.2" y2="195.05" stroke="#a0a0a0" stroke-width="1"/>
<line x1="432.8" y1="282.8" x2="432.8" y2="280.8" stroke="#a0a0a0" stroke-width="1"/>
<line x1="432.8" y1="177.5" x2="432.8" y2="179.5" stroke="#a0a0a0" stroke-width="1"/>
<line x1="472.5" y1="282.8" x2="472.5" y2="280.8" stroke="#a0a0a0" stroke-width="1"/>
<line x1="472.5" y1="177.5" x2="472.5" y2="179.5" stroke="#a0a0a0" stroke-width="1"/>
<text x="389.5" y="284.3" font-size="7" text-anchor="end" font-weight="normal" fill="#1c1c1c" stroke="#1c1c1c" stroke-width="0.21">0</text>
<text x="389.5" y="266.75" font-size="7" text-anchor="end" font-weight="normal" fill="#1c1c1c" stroke="#1c1c1c" stroke-width="0.21">100</text>
<text x="389.5" y="249.2" font-size="7" text-anchor="end" font-weight="normal" fill="#1c1c1c" stroke="#1c1c1c" stroke-width="0.21">200</text>
<text x="389.5" y="231.65" font-size="7" text-anchor="end" font-weight="normal" fill="#1c1c1c" stroke="#1c1c1c" stroke-width="0.21">300</text>
<text x="389.5" y="214.1" font-size="7" text-anchor="end" font-weight="normal" fill="#1c1c1c" stroke="#1c1c1c" stroke-width="0.21">400</text>
<text x="389.5" y="196.55" font-size="7" text-anchor="end" font-weight="normal" fill="#1c1c1c" stroke="#1c1c1c" stroke-width="0.21">500</text>
<text x="389.5" y="179" font-size="7" text-anchor="end" font-weight="normal" fill="#1c1c1c" stroke="#1c1c1c" stroke-width="0.21">600</text>
<text x="412.4" y="290.2" font-size="7" text-anchor="middle" font-weight="normal" fill="#1c1c1c" stroke="#1c1c1c" stroke-width="0.21">100</text>
<text x="453.6" y="290.2" font-size="7" text-anchor="middle" font-weight="normal" fill="#1c1c1c" stroke="#1c1c1c" stroke-width="0.21">60</text>
<text x="495.3" y="290.2" font-size="7" text-anchor="middle" font-weight="normal" fill="#1c1c1c" stroke="#1c1c1c" stroke-width="0.21">20</text>
<text x="456.2" y="298.6" font-size="6.8" text-anchor="middle" font-weight="normal" fill="#1c1c1c" stroke="#1c1c1c" stroke-width="0.2">% Confluent</text>
<text x="377.2" y="230.6" font-size="6.95" text-anchor="middle" font-weight="normal" fill="#1c1c1c" stroke="#1c1c1c" stroke-width="0.21" transform="rotate(-90 377.2 230.6)">Peak Height (nM Thrombin)</text>
<line x1="411.8" y1="184.5" x2="495.9" y2="184.5" stroke="#9c9c9c" stroke-width="0.9"/>
<circle cx="450.4" cy="181.5" r="1.05" fill="#111"/>
<path d="M450.4 179.7 L450.4 183.3 M448.84 180.6 L451.96 182.4 M451.96 180.6 L448.84 182.4" stroke="#111" stroke-width="0.75" fill="none"/>
<line x1="453" y1="191.3" x2="495.9" y2="191.3" stroke="#9c9c9c" stroke-width="0.9"/>
<circle cx="474.3" cy="189" r="1.05" fill="#111"/>
<path d="M474.3 187.2 L474.3 190.8 M472.74 188.1 L475.86 189.9 M475.86 188.1 L472.74 189.9" stroke="#111" stroke-width="0.75" fill="none"/>
<rect x="32.6" y="397.35" width="7.7" height="47.15" fill="#a4a4a4" stroke="#8a8a8a" stroke-width="0.5"/>
<line x1="36.45" y1="387.1" x2="36.45" y2="397.1" stroke="#a8a8a8" stroke-width="1.1"/>
<line x1="35.65" y1="387.1" x2="37.25" y2="387.1" stroke="#a8a8a8" stroke-width="0.8"/>
<line x1="36.45" y1="397.1" x2="36.45" y2="407.1" stroke="#6a6a6a" stroke-width="0.8"/>
<rect x="42.18" y="401.35" width="7.7" height="43.15" fill="#585858" stroke="#444444" stroke-width="0.5"/>
<line x1="46.03" y1="388.2" x2="46.03" y2="401.1" stroke="#a8a8a8" stroke-width="1.1"/>
<line x1="45.23" y1="388.2" x2="46.83" y2="388.2" stroke="#a8a8a8" stroke-width="0.8"/>
<line x1="46.03" y1="401.1" x2="46.03" y2="414" stroke="#777" stroke-width="0.8"/>
<rect x="51.76" y="405.45" width="7.7" height="39.05" fill="#333333" stroke="#262626" stroke-width="0.5"/>
<line x1="55.61" y1="396" x2="55.61" y2="405.2" stroke="#a8a8a8" stroke-width="1.1"/>
<line x1="54.81" y1="396" x2="56.41" y2="396" stroke="#a8a8a8" stroke-width="0.8"/>
<line x1="55.61" y1="405.2" x2="55.61" y2="414.4" stroke="#555" stroke-width="0.8"/>
<rect x="61.34" y="403.95" width="7.7" height="40.55" fill="#050505" stroke="#000" stroke-width="0.5"/>
<line x1="65.19" y1="386.7" x2="65.19" y2="403.7" stroke="#a8a8a8" stroke-width="1.1"/>
<line x1="64.39" y1="386.7" x2="65.99" y2="386.7" stroke="#a8a8a8" stroke-width="0.8"/>
<line x1="65.19" y1="403.7" x2="65.19" y2="420.7" stroke="#222" stroke-width="0.8"/>
<text x="36.45" y="449.5" font-size="4.3" text-anchor="middle" font-weight="normal" fill="#333" stroke="#333" stroke-width="0.13">100</text>
<text x="46.03" y="449.5" font-size="4.3" text-anchor="middle" font-weight="normal" fill="#333" stroke="#333" stroke-width="0.13">200</text>
<text x="55.61" y="449.5" font-size="4.3" text-anchor="middle" font-weight="normal" fill="#333" stroke="#333" stroke-width="0.13">300</text>
<text x="65.19" y="449.5" font-size="4.3" text-anchor="middle" font-weight="normal" fill="#333" stroke="#333" stroke-width="0.13">400</text>
<line x1="32.4" y1="451.4" x2="68.39" y2="451.4" stroke="#9a9a9a" stroke-width="0.7"/>
<text x="49.26" y="458.3" font-size="6.1" text-anchor="middle" font-weight="normal" fill="#1c1c1c" stroke="#1c1c1c" stroke-width="0.18">100% Confluent</text>
<rect x="80.49" y="390.75" width="7.7" height="53.75" fill="#a4a4a4" stroke="#8a8a8a" stroke-width="0.5"/>
<line x1="84.34" y1="378.1" x2="84.34" y2="390.5" stroke="#a8a8a8" stroke-width="1.1"/>
<line x1="83.54" y1="378.1" x2="85.14" y2="378.1" stroke="#a8a8a8" stroke-width="0.8"/>
<line x1="84.34" y1="390.5" x2="84.34" y2="402.9" stroke="#6a6a6a" stroke-width="0.8"/>
<rect x="90.07" y="394.95" width="7.7" height="49.55" fill="#585858" stroke="#444444" stroke-width="0.5"/>
<line x1="93.92" y1="381" x2="93.92" y2="394.7" stroke="#a8a8a8" stroke-width="1.1"/>
<line x1="93.12" y1="381" x2="94.72" y2="381" stroke="#a8a8a8" stroke-width="0.8"/>
<line x1="93.92" y1="394.7" x2="93.92" y2="408.4" stroke="#777" stroke-width="0.8"/>
<rect x="99.65" y="392.65" width="7.7" height="51.85" fill="#333333" stroke="#262626" stroke-width="0.5"/>
<line x1="103.5" y1="374.9" x2="103.5" y2="392.4" stroke="#a8a8a8" stroke-width="1.1"/>
<line x1="102.7" y1="374.9" x2="104.3" y2="374.9" stroke="#a8a8a8" stroke-width="0.8"/>
<line x1="103.5" y1="392.4" x2="103.5" y2="409.9" stroke="#555" stroke-width="0.8"/>
<rect x="109.23" y="399.35" width="7.7" height="45.15" fill="#050505" stroke="#000" stroke-width="0.5"/>
<line x1="113.08" y1="389.6" x2="113.08" y2="399.1" stroke="#a8a8a8" stroke-width="1.1"/>
<line x1="112.28" y1="389.6" x2="113.88" y2="389.6" stroke="#a8a8a8" stroke-width="0.8"/>
<line x1="113.08" y1="399.1" x2="113.08" y2="408.6" stroke="#222" stroke-width="0.8"/>
<text x="84.34" y="449.5" font-size="4.3" text-anchor="middle" font-weight="normal" fill="#333" stroke="#333" stroke-width="0.13">100</text>
<text x="93.92" y="449.5" font-size="4.3" text-anchor="middle" font-weight="normal" fill="#333" stroke="#333" stroke-width="0.13">200</text>
<text x="103.5" y="449.5" font-size="4.3" text-anchor="middle" font-weight="normal" fill="#333" stroke="#333" stroke-width="0.13">300</text>
<text x="113.08" y="449.5" font-size="4.3" text-anchor="middle" font-weight="normal" fill="#333" stroke="#333" stroke-width="0.13">400</text>
<line x1="80.29" y1="451.4" x2="116.28" y2="451.4" stroke="#9a9a9a" stroke-width="0.7"/>
<text x="98.05" y="458.3" font-size="6.1" text-anchor="middle" font-weight="normal" fill="#1c1c1c" stroke="#1c1c1c" stroke-width="0.18">60% Confluent</text>
<rect x="128.39" y="360.35" width="7.7" height="84.15" fill="#a4a4a4" stroke="#8a8a8a" stroke-width="0.5"/>
<line x1="132.24" y1="345.2" x2="132.24" y2="360.1" stroke="#a8a8a8" stroke-width="1.1"/>
<line x1="131.44" y1="345.2" x2="133.04" y2="345.2" stroke="#a8a8a8" stroke-width="0.8"/>
<line x1="132.24" y1="360.1" x2="132.24" y2="375" stroke="#6a6a6a" stroke-width="0.8"/>
<rect x="137.96" y="363.25" width="7.7" height="81.25" fill="#585858" stroke="#444444" stroke-width="0.5"/>
<line x1="141.81" y1="351.9" x2="141.81" y2="363" stroke="#a8a8a8" stroke-width="1.1"/>
<line x1="141.01" y1="351.9" x2="142.61" y2="351.9" stroke="#a8a8a8" stroke-width="0.8"/>
<line x1="141.81" y1="363" x2="141.81" y2="374.1" stroke="#777" stroke-width="0.8"/>
<rect x="147.54" y="372.95" width="7.7" height="71.55" fill="#333333" stroke="#262626" stroke-width="0.5"/>
<line x1="151.39" y1="363" x2="151.39" y2="372.7" stroke="#a8a8a8" stroke-width="1.1"/>
<line x1="150.59" y1="363" x2="152.19" y2="363" stroke="#a8a8a8" stroke-width="0.8"/>
<line x1="151.39" y1="372.7" x2="151.39" y2="382.4" stroke="#555" stroke-width="0.8"/>
<rect x="157.12" y="378.15" width="7.7" height="66.35" fill="#050505" stroke="#000" stroke-width="0.5"/>
<line x1="160.97" y1="360.1" x2="160.97" y2="377.9" stroke="#a8a8a8" stroke-width="1.1"/>
<line x1="160.17" y1="360.1" x2="161.77" y2="360.1" stroke="#a8a8a8" stroke-width="0.8"/>
<line x1="160.97" y1="377.9" x2="160.97" y2="395.7" stroke="#222" stroke-width="0.8"/>
<text x="132.24" y="449.5" font-size="4.3" text-anchor="middle" font-weight="normal" fill="#333" stroke="#333" stroke-width="0.13">100</text>
<text x="141.81" y="449.5" font-size="4.3" text-anchor="middle" font-weight="normal" fill="#333" stroke="#333" stroke-width="0.13">200</text>
<text x="151.39" y="449.5" font-size="4.3" text-anchor="middle" font-weight="normal" fill="#333" stroke="#333" stroke-width="0.13">300</text>
<text x="160.97" y="449.5" font-size="4.3" text-anchor="middle" font-weight="normal" fill="#333" stroke="#333" stroke-width="0.13">400</text>
<line x1="128.19" y1="451.4" x2="164.17" y2="451.4" stroke="#9a9a9a" stroke-width="0.7"/>
<text x="146.14" y="458.3" font-size="6.1" text-anchor="middle" font-weight="normal" fill="#1c1c1c" stroke="#1c1c1c" stroke-width="0.18">20% Confluent</text>
<rect x="31.5" y="328.3" width="134.1" height="116.2" fill="none" stroke="#929292" stroke-width="1"/>
<line x1="31.5" y1="427.9" x2="33.5" y2="427.9" stroke="#a0a0a0" stroke-width="1"/>
<line x1="165.6" y1="427.9" x2="163.6" y2="427.9" stroke="#a0a0a0" stroke-width="1"/>
<line x1="31.5" y1="411.3" x2="33.5" y2="411.3" stroke="#a0a0a0" stroke-width="1"/>
<line x1="165.6" y1="411.3" x2="163.6" y2="411.3" stroke="#a0a0a0" stroke-width="1"/>
<line x1="31.5" y1="394.7" x2="33.5" y2="394.7" stroke="#a0a0a0" stroke-width="1"/>
<line x1="165.6" y1="394.7" x2="163.6" y2="394.7" stroke="#a0a0a0" stroke-width="1"/>
<line x1="31.5" y1="378.1" x2="33.5" y2="378.1" stroke="#a0a0a0" stroke-width="1"/>
<line x1="165.6" y1="378.1" x2="163.6" y2="378.1" stroke="#a0a0a0" stroke-width="1"/>
<line x1="31.5" y1="361.5" x2="33.5" y2="361.5" stroke="#a0a0a0" stroke-width="1"/>
<line x1="165.6" y1="361.5" x2="163.6" y2="361.5" stroke="#a0a0a0" stroke-width="1"/>
<line x1="31.5" y1="344.9" x2="33.5" y2="344.9" stroke="#a0a0a0" stroke-width="1"/>
<line x1="165.6" y1="344.9" x2="163.6" y2="344.9" stroke="#a0a0a0" stroke-width="1"/>
<line x1="41.08" y1="444.5" x2="41.08" y2="442.9" stroke="#a0a0a0" stroke-width="1"/>
<line x1="41.08" y1="328.3" x2="41.08" y2="329.9" stroke="#a0a0a0" stroke-width="1"/>
<line x1="50.66" y1="444.5" x2="50.66" y2="442.9" stroke="#a0a0a0" stroke-width="1"/>
<line x1="50.66" y1="328.3" x2="50.66" y2="329.9" stroke="#a0a0a0" stroke-width="1"/>
<line x1="60.24" y1="444.5" x2="60.24" y2="442.9" stroke="#a0a0a0" stroke-width="1"/>
<line x1="60.24" y1="328.3" x2="60.24" y2="329.9" stroke="#a0a0a0" stroke-width="1"/>
<line x1="69.81" y1="444.5" x2="69.81" y2="442.9" stroke="#a0a0a0" stroke-width="1"/>
<line x1="69.81" y1="328.3" x2="69.81" y2="329.9" stroke="#a0a0a0" stroke-width="1"/>
<line x1="79.39" y1="444.5" x2="79.39" y2="442.9" stroke="#a0a0a0" stroke-width="1"/>
<line x1="79.39" y1="328.3" x2="79.39" y2="329.9" stroke="#a0a0a0" stroke-width="1"/>
<line x1="88.97" y1="444.5" x2="88.97" y2="442.9" stroke="#a0a0a0" stroke-width="1"/>
<line x1="88.97" y1="328.3" x2="88.97" y2="329.9" stroke="#a0a0a0" stroke-width="1"/>
<line x1="98.55" y1="444.5" x2="98.55" y2="442.9" stroke="#a0a0a0" stroke-width="1"/>
<line x1="98.55" y1="328.3" x2="98.55" y2="329.9" stroke="#a0a0a0" stroke-width="1"/>
<line x1="108.13" y1="444.5" x2="108.13" y2="442.9" stroke="#a0a0a0" stroke-width="1"/>
<line x1="108.13" y1="328.3" x2="108.13" y2="329.9" stroke="#a0a0a0" stroke-width="1"/>
<line x1="117.71" y1="444.5" x2="117.71" y2="442.9" stroke="#a0a0a0" stroke-width="1"/>
<line x1="117.71" y1="328.3" x2="117.71" y2="329.9" stroke="#a0a0a0" stroke-width="1"/>
<line x1="127.29" y1="444.5" x2="127.29" y2="442.9" stroke="#a0a0a0" stroke-width="1"/>
<line x1="127.29" y1="328.3" x2="127.29" y2="329.9" stroke="#a0a0a0" stroke-width="1"/>
<line x1="136.86" y1="444.5" x2="136.86" y2="442.9" stroke="#a0a0a0" stroke-width="1"/>
<line x1="136.86" y1="328.3" x2="136.86" y2="329.9" stroke="#a0a0a0" stroke-width="1"/>
<line x1="146.44" y1="444.5" x2="146.44" y2="442.9" stroke="#a0a0a0" stroke-width="1"/>
<line x1="146.44" y1="328.3" x2="146.44" y2="329.9" stroke="#a0a0a0" stroke-width="1"/>
<line x1="156.02" y1="444.5" x2="156.02" y2="442.9" stroke="#a0a0a0" stroke-width="1"/>
<line x1="156.02" y1="328.3" x2="156.02" y2="329.9" stroke="#a0a0a0" stroke-width="1"/>
<text x="28.5" y="445.3" font-size="7" text-anchor="end" font-weight="normal" fill="#1c1c1c" stroke="#1c1c1c" stroke-width="0.21">0</text>
<text x="28.5" y="428.7" font-size="7" text-anchor="end" font-weight="normal" fill="#1c1c1c" stroke="#1c1c1c" stroke-width="0.21">1</text>
<text x="28.5" y="412.1" font-size="7" text-anchor="end" font-weight="normal" fill="#1c1c1c" stroke="#1c1c1c" stroke-width="0.21">2</text>
<text x="28.5" y="395.5" font-size="7" text-anchor="end" font-weight="normal" fill="#1c1c1c" stroke="#1c1c1c" stroke-width="0.21">3</text>
<text x="28.5" y="378.9" font-size="7" text-anchor="end" font-weight="normal" fill="#1c1c1c" stroke="#1c1c1c" stroke-width="0.21">4</text>
<text x="28.5" y="362.3" font-size="7" text-anchor="end" font-weight="normal" fill="#1c1c1c" stroke="#1c1c1c" stroke-width="0.21">5</text>
<text x="28.5" y="345.7" font-size="7" text-anchor="end" font-weight="normal" fill="#1c1c1c" stroke="#1c1c1c" stroke-width="0.21">6</text>
<text x="28.5" y="329.1" font-size="7" text-anchor="end" font-weight="normal" fill="#1c1c1c" stroke="#1c1c1c" stroke-width="0.21">7</text>
<text x="94.8" y="468.7" font-size="7.1" text-anchor="middle" font-weight="normal" fill="#1c1c1c" stroke="#1c1c1c" stroke-width="0.21">% FVIII</text>
<text x="14.6" y="387" font-size="7.6" text-anchor="middle" font-weight="normal" fill="#1c1c1c" stroke="#1c1c1c" stroke-width="0.23" transform="rotate(-90 14.6 387)">Lag Time (minutes)</text>
<rect x="206.4" y="382.45" width="7.7" height="62.05" fill="#a4a4a4" stroke="#8a8a8a" stroke-width="0.5"/>
<line x1="210.25" y1="363.1" x2="210.25" y2="382.2" stroke="#a8a8a8" stroke-width="1.1"/>
<line x1="209.45" y1="363.1" x2="211.05" y2="363.1" stroke="#a8a8a8" stroke-width="0.8"/>
<line x1="210.25" y1="382.2" x2="210.25" y2="401.3" stroke="#6a6a6a" stroke-width="0.8"/>
<rect x="216.01" y="366.15" width="7.7" height="78.35" fill="#585858" stroke="#444444" stroke-width="0.5"/>
<line x1="219.86" y1="341.2" x2="219.86" y2="365.9" stroke="#a8a8a8" stroke-width="1.1"/>
<line x1="219.06" y1="341.2" x2="220.66" y2="341.2" stroke="#a8a8a8" stroke-width="0.8"/>
<line x1="219.86" y1="365.9" x2="219.86" y2="390.6" stroke="#777" stroke-width="0.8"/>
<rect x="225.63" y="367.85" width="7.7" height="76.65" fill="#333333" stroke="#262626" stroke-width="0.5"/>
<line x1="229.48" y1="349.5" x2="229.48" y2="367.6" stroke="#a8a8a8" stroke-width="1.1"/>
<line x1="228.68" y1="349.5" x2="230.28" y2="349.5" stroke="#a8a8a8" stroke-width="0.8"/>
<line x1="229.48" y1="367.6" x2="229.48" y2="385.7" stroke="#555" stroke-width="0.8"/>
<rect x="235.24" y="360.55" width="7.7" height="83.95" fill="#050505" stroke="#000" stroke-width="0.5"/>
<line x1="239.09" y1="337.6" x2="239.09" y2="360.3" stroke="#a8a8a8" stroke-width="1.1"/>
<line x1="238.29" y1="337.6" x2="239.89" y2="337.6" stroke="#a8a8a8" stroke-width="0.8"/>
<line x1="239.09" y1="360.3" x2="239.09" y2="383" stroke="#222" stroke-width="0.8"/>
<text x="210.25" y="449.5" font-size="4.3" text-anchor="middle" font-weight="normal" fill="#333" stroke="#333" stroke-width="0.13">100</text>
<text x="219.86" y="449.5" font-size="4.3" text-anchor="middle" font-weight="normal" fill="#333" stroke="#333" stroke-width="0.13">200</text>
<text x="229.48" y="449.5" font-size="4.3" text-anchor="middle" font-weight="normal" fill="#333" stroke="#333" stroke-width="0.13">300</text>
<text x="239.09" y="449.5" font-size="4.3" text-anchor="middle" font-weight="normal" fill="#333" stroke="#333" stroke-width="0.13">400</text>
<line x1="206.2" y1="451.4" x2="242.29" y2="451.4" stroke="#9a9a9a" stroke-width="0.7"/>
<text x="223.11" y="458.3" font-size="6.1" text-anchor="middle" font-weight="normal" fill="#1c1c1c" stroke="#1c1c1c" stroke-width="0.18">100% Confluent</text>
<rect x="254.47" y="396.15" width="7.7" height="48.35" fill="#a4a4a4" stroke="#8a8a8a" stroke-width="0.5"/>
<line x1="258.32" y1="379.3" x2="258.32" y2="395.9" stroke="#a8a8a8" stroke-width="1.1"/>
<line x1="257.52" y1="379.3" x2="259.12" y2="379.3" stroke="#a8a8a8" stroke-width="0.8"/>
<line x1="258.32" y1="395.9" x2="258.32" y2="412.5" stroke="#6a6a6a" stroke-width="0.8"/>
<rect x="264.09" y="380.45" width="7.7" height="64.05" fill="#585858" stroke="#444444" stroke-width="0.5"/>
<line x1="267.94" y1="360.7" x2="267.94" y2="380.2" stroke="#a8a8a8" stroke-width="1.1"/>
<line x1="267.14" y1="360.7" x2="268.74" y2="360.7" stroke="#a8a8a8" stroke-width="0.8"/>
<line x1="267.94" y1="380.2" x2="267.94" y2="399.7" stroke="#777" stroke-width="0.8"/>
<rect x="273.7" y="380.55" width="7.7" height="63.95" fill="#333333" stroke="#262626" stroke-width="0.5"/>
<line x1="277.55" y1="361.5" x2="277.55" y2="380.3" stroke="#a8a8a8" stroke-width="1.1"/>
<line x1="276.75" y1="361.5" x2="278.35" y2="361.5" stroke="#a8a8a8" stroke-width="0.8"/>
<line x1="277.55" y1="380.3" x2="277.55" y2="399.1" stroke="#555" stroke-width="0.8"/>
<rect x="283.31" y="367.75" width="7.7" height="76.75" fill="#050505" stroke="#000" stroke-width="0.5"/>
<line x1="287.16" y1="352.7" x2="287.16" y2="367.5" stroke="#a8a8a8" stroke-width="1.1"/>
<line x1="286.36" y1="352.7" x2="287.96" y2="352.7" stroke="#a8a8a8" stroke-width="0.8"/>
<line x1="287.16" y1="367.5" x2="287.16" y2="382.3" stroke="#222" stroke-width="0.8"/>
<text x="258.32" y="449.5" font-size="4.3" text-anchor="middle" font-weight="normal" fill="#333" stroke="#333" stroke-width="0.13">100</text>
<text x="267.94" y="449.5" font-size="4.3" text-anchor="middle" font-weight="normal" fill="#333" stroke="#333" stroke-width="0.13">200</text>
<text x="277.55" y="449.5" font-size="4.3" text-anchor="middle" font-weight="normal" fill="#333" stroke="#333" stroke-width="0.13">300</text>
<text x="287.16" y="449.5" font-size="4.3" text-anchor="middle" font-weight="normal" fill="#333" stroke="#333" stroke-width="0.13">400</text>
<line x1="254.27" y1="451.4" x2="290.36" y2="451.4" stroke="#9a9a9a" stroke-width="0.7"/>
<text x="272.08" y="458.3" font-size="6.1" text-anchor="middle" font-weight="normal" fill="#1c1c1c" stroke="#1c1c1c" stroke-width="0.18">60% Confluent</text>
<rect x="302.54" y="422.15" width="7.7" height="22.35" fill="#a4a4a4" stroke="#8a8a8a" stroke-width="0.5"/>
<line x1="306.39" y1="413.7" x2="306.39" y2="421.9" stroke="#a8a8a8" stroke-width="1.1"/>
<line x1="305.59" y1="413.7" x2="307.19" y2="413.7" stroke="#a8a8a8" stroke-width="0.8"/>
<line x1="306.39" y1="421.9" x2="306.39" y2="430.1" stroke="#6a6a6a" stroke-width="0.8"/>
<rect x="312.16" y="413.95" width="7.7" height="30.55" fill="#585858" stroke="#444444" stroke-width="0.5"/>
<line x1="316.01" y1="406.8" x2="316.01" y2="413.7" stroke="#a8a8a8" stroke-width="1.1"/>
<line x1="315.21" y1="406.8" x2="316.81" y2="406.8" stroke="#a8a8a8" stroke-width="0.8"/>
<line x1="316.01" y1="413.7" x2="316.01" y2="420.6" stroke="#777" stroke-width="0.8"/>
<rect x="321.77" y="400.65" width="7.7" height="43.85" fill="#333333" stroke="#262626" stroke-width="0.5"/>
<line x1="325.62" y1="391" x2="325.62" y2="400.4" stroke="#a8a8a8" stroke-width="1.1"/>
<line x1="324.82" y1="391" x2="326.42" y2="391" stroke="#a8a8a8" stroke-width="0.8"/>
<line x1="325.62" y1="400.4" x2="325.62" y2="409.8" stroke="#555" stroke-width="0.8"/>
<rect x="331.39" y="391.25" width="7.7" height="53.25" fill="#050505" stroke="#000" stroke-width="0.5"/>
<line x1="335.24" y1="379.2" x2="335.24" y2="391" stroke="#a8a8a8" stroke-width="1.1"/>
<line x1="334.44" y1="379.2" x2="336.04" y2="379.2" stroke="#a8a8a8" stroke-width="0.8"/>
<line x1="335.24" y1="391" x2="335.24" y2="402.8" stroke="#222" stroke-width="0.8"/>
<text x="306.39" y="449.5" font-size="4.3" text-anchor="middle" font-weight="normal" fill="#333" stroke="#333" stroke-width="0.13">100</text>
<text x="316.01" y="449.5" font-size="4.3" text-anchor="middle" font-weight="normal" fill="#333" stroke="#333" stroke-width="0.13">200</text>
<text x="325.62" y="449.5" font-size="4.3" text-anchor="middle" font-weight="normal" fill="#333" stroke="#333" stroke-width="0.13">300</text>
<text x="335.24" y="449.5" font-size="4.3" text-anchor="middle" font-weight="normal" fill="#333" stroke="#333" stroke-width="0.13">400</text>
<line x1="302.34" y1="451.4" x2="338.44" y2="451.4" stroke="#9a9a9a" stroke-width="0.7"/>
<text x="320.35" y="458.3" font-size="6.1" text-anchor="middle" font-weight="normal" fill="#1c1c1c" stroke="#1c1c1c" stroke-width="0.18">20% Confluent</text>
<circle cx="286.9" cy="347.1" r="1.05" fill="#111"/>
<path d="M286.9 345.3 L286.9 348.9 M285.34 346.2 L288.46 348 M288.46 346.2 L285.34 348" stroke="#111" stroke-width="0.75" fill="none"/>
<circle cx="325" cy="384.7" r="1.05" fill="#111"/>
<path d="M325 382.9 L325 386.5 M323.44 383.8 L326.56 385.6 M326.56 383.8 L323.44 385.6" stroke="#111" stroke-width="0.75" fill="none"/>
<circle cx="334.7" cy="373.7" r="1.05" fill="#111"/>
<path d="M334.7 371.9 L334.7 375.5 M333.14 372.8 L336.26 374.6 M336.26 372.8 L333.14 374.6" stroke="#111" stroke-width="0.75" fill="none"/>
<rect x="205.3" y="328.3" width="134.6" height="116.2" fill="none" stroke="#929292" stroke-width="1"/>
<line x1="205.3" y1="429.98" x2="207.3" y2="429.98" stroke="#a0a0a0" stroke-width="1"/>
<line x1="339.9" y1="429.98" x2="337.9" y2="429.98" stroke="#a0a0a0" stroke-width="1"/>
<line x1="205.3" y1="415.45" x2="207.3" y2="415.45" stroke="#a0a0a0" stroke-width="1"/>
<line x1="339.9" y1="415.45" x2="337.9" y2="415.45" stroke="#a0a0a0" stroke-width="1"/>
<line x1="205.3" y1="400.93" x2="207.3" y2="400.93" stroke="#a0a0a0" stroke-width="1"/>
<line x1="339.9" y1="400.93" x2="337.9" y2="400.93" stroke="#a0a0a0" stroke-width="1"/>
<line x1="205.3" y1="386.4" x2="207.3" y2="386.4" stroke="#a0a0a0" stroke-width="1"/>
<line x1="339.9" y1="386.4" x2="337.9" y2="386.4" stroke="#a0a0a0" stroke-width="1"/>
<line x1="205.3" y1="371.88" x2="207.3" y2="371.88" stroke="#a0a0a0" stroke-width="1"/>
<line x1="339.9" y1="371.88" x2="337.9" y2="371.88" stroke="#a0a0a0" stroke-width="1"/>
<line x1="205.3" y1="357.35" x2="207.3" y2="357.35" stroke="#a0a0a0" stroke-width="1"/>
<line x1="339.9" y1="357.35" x2="337.9" y2="357.35" stroke="#a0a0a0" stroke-width="1"/>
<line x1="205.3" y1="342.83" x2="207.3" y2="342.83" stroke="#a0a0a0" stroke-width="1"/>
<line x1="339.9" y1="342.83" x2="337.9" y2="342.83" stroke="#a0a0a0" stroke-width="1"/>
<line x1="214.91" y1="444.5" x2="214.91" y2="442.9" stroke="#a0a0a0" stroke-width="1"/>
<line x1="214.91" y1="328.3" x2="214.91" y2="329.9" stroke="#a0a0a0" stroke-width="1"/>
<line x1="224.53" y1="444.5" x2="224.53" y2="442.9" stroke="#a0a0a0" stroke-width="1"/>
<line x1="224.53" y1="328.3" x2="224.53" y2="329.9" stroke="#a0a0a0" stroke-width="1"/>
<line x1="234.14" y1="444.5" x2="234.14" y2="442.9" stroke="#a0a0a0" stroke-width="1"/>
<line x1="234.14" y1="328.3" x2="234.14" y2="329.9" stroke="#a0a0a0" stroke-width="1"/>
<line x1="243.76" y1="444.5" x2="243.76" y2="442.9" stroke="#a0a0a0" stroke-width="1"/>
<line x1="243.76" y1="328.3" x2="243.76" y2="329.9" stroke="#a0a0a0" stroke-width="1"/>
<line x1="253.37" y1="444.5" x2="253.37" y2="442.9" stroke="#a0a0a0" stroke-width="1"/>
<line x1="253.37" y1="328.3" x2="253.37" y2="329.9" stroke="#a0a0a0" stroke-width="1"/>
<line x1="262.99" y1="444.5" x2="262.99" y2="442.9" stroke="#a0a0a0" stroke-width="1"/>
<line x1="262.99" y1="328.3" x2="262.99" y2="329.9" stroke="#a0a0a0" stroke-width="1"/>
<line x1="272.6" y1="444.5" x2="272.6" y2="442.9" stroke="#a0a0a0" stroke-width="1"/>
<line x1="272.6" y1="328.3" x2="272.6" y2="329.9" stroke="#a0a0a0" stroke-width="1"/>
<line x1="282.21" y1="444.5" x2="282.21" y2="442.9" stroke="#a0a0a0" stroke-width="1"/>
<line x1="282.21" y1="328.3" x2="282.21" y2="329.9" stroke="#a0a0a0" stroke-width="1"/>
<line x1="291.83" y1="444.5" x2="291.83" y2="442.9" stroke="#a0a0a0" stroke-width="1"/>
<line x1="291.83" y1="328.3" x2="291.83" y2="329.9" stroke="#a0a0a0" stroke-width="1"/>
<line x1="301.44" y1="444.5" x2="301.44" y2="442.9" stroke="#a0a0a0" stroke-width="1"/>
<line x1="301.44" y1="328.3" x2="301.44" y2="329.9" stroke="#a0a0a0" stroke-width="1"/>
<line x1="311.06" y1="444.5" x2="311.06" y2="442.9" stroke="#a0a0a0" stroke-width="1"/>
<line x1="311.06" y1="328.3" x2="311.06" y2="329.9" stroke="#a0a0a0" stroke-width="1"/>
<line x1="320.67" y1="444.5" x2="320.67" y2="442.9" stroke="#a0a0a0" stroke-width="1"/>
<line x1="320.67" y1="328.3" x2="320.67" y2="329.9" stroke="#a0a0a0" stroke-width="1"/>
<line x1="330.29" y1="444.5" x2="330.29" y2="442.9" stroke="#a0a0a0" stroke-width="1"/>
<line x1="330.29" y1="328.3" x2="330.29" y2="329.9" stroke="#a0a0a0" stroke-width="1"/>
<text x="202.3" y="445.3" font-size="7" text-anchor="end" font-weight="normal" fill="#1c1c1c" stroke="#1c1c1c" stroke-width="0.21">0</text>
<text x="202.3" y="430.78" font-size="7" text-anchor="end" font-weight="normal" fill="#1c1c1c" stroke="#1c1c1c" stroke-width="0.21">50</text>
<text x="202.3" y="416.25" font-size="7" text-anchor="end" font-weight="normal" fill="#1c1c1c" stroke="#1c1c1c" stroke-width="0.21">100</text>
<text x="202.3" y="401.73" font-size="7" text-anchor="end" font-weight="normal" fill="#1c1c1c" stroke="#1c1c1c" stroke-width="0.21">150</text>
<text x="202.3" y="387.2" font-size="7" text-anchor="end" font-weight="normal" fill="#1c1c1c" stroke="#1c1c1c" stroke-width="0.21">200</text>
<text x="202.3" y="372.68" font-size="7" text-anchor="end" font-weight="normal" fill="#1c1c1c" stroke="#1c1c1c" stroke-width="0.21">250</text>
<text x="202.3" y="358.15" font-size="7" text-anchor="end" font-weight="normal" fill="#1c1c1c" stroke="#1c1c1c" stroke-width="0.21">300</text>
<text x="202.3" y="343.63" font-size="7" text-anchor="end" font-weight="normal" fill="#1c1c1c" stroke="#1c1c1c" stroke-width="0.21">350</text>
<text x="202.3" y="329.1" font-size="7" text-anchor="end" font-weight="normal" fill="#1c1c1c" stroke="#1c1c1c" stroke-width="0.21">400</text>
<text x="269" y="468.7" font-size="7.1" text-anchor="middle" font-weight="normal" fill="#1c1c1c" stroke="#1c1c1c" stroke-width="0.21">% FVIII</text>
<text x="186.2" y="385.6" font-size="7.6" text-anchor="middle" font-weight="normal" fill="#1c1c1c" stroke="#1c1c1c" stroke-width="0.23" transform="rotate(-90 186.2 385.6)">Rate (nM Thrombin/minute)</text>
<rect x="380" y="352.75" width="7.7" height="91.75" fill="#a4a4a4" stroke="#8a8a8a" stroke-width="0.5"/>
<line x1="383.85" y1="339.2" x2="383.85" y2="352.5" stroke="#a8a8a8" stroke-width="1.1"/>
<line x1="383.05" y1="339.2" x2="384.65" y2="339.2" stroke="#a8a8a8" stroke-width="0.8"/>
<line x1="383.85" y1="352.5" x2="383.85" y2="365.8" stroke="#6a6a6a" stroke-width="0.8"/>
<rect x="389.59" y="347.95" width="7.7" height="96.55" fill="#585858" stroke="#444444" stroke-width="0.5"/>
<line x1="393.44" y1="334.1" x2="393.44" y2="347.7" stroke="#a8a8a8" stroke-width="1.1"/>
<line x1="392.64" y1="334.1" x2="394.24" y2="334.1" stroke="#a8a8a8" stroke-width="0.8"/>
<line x1="393.44" y1="347.7" x2="393.44" y2="361.3" stroke="#777" stroke-width="0.8"/>
<rect x="399.19" y="344.45" width="7.7" height="100.05" fill="#333333" stroke="#262626" stroke-width="0.5"/>
<line x1="403.04" y1="332.8" x2="403.04" y2="344.2" stroke="#a8a8a8" stroke-width="1.1"/>
<line x1="402.24" y1="332.8" x2="403.84" y2="332.8" stroke="#a8a8a8" stroke-width="0.8"/>
<line x1="403.04" y1="344.2" x2="403.04" y2="355.6" stroke="#555" stroke-width="0.8"/>
<rect x="408.78" y="343.25" width="7.7" height="101.25" fill="#050505" stroke="#000" stroke-width="0.5"/>
<line x1="412.63" y1="328.5" x2="412.63" y2="343" stroke="#a8a8a8" stroke-width="1.1"/>
<line x1="411.83" y1="328.5" x2="413.43" y2="328.5" stroke="#a8a8a8" stroke-width="0.8"/>
<line x1="412.63" y1="343" x2="412.63" y2="357.5" stroke="#222" stroke-width="0.8"/>
<text x="383.85" y="449.5" font-size="4.3" text-anchor="middle" font-weight="normal" fill="#333" stroke="#333" stroke-width="0.13">100</text>
<text x="393.44" y="449.5" font-size="4.3" text-anchor="middle" font-weight="normal" fill="#333" stroke="#333" stroke-width="0.13">200</text>
<text x="403.04" y="449.5" font-size="4.3" text-anchor="middle" font-weight="normal" fill="#333" stroke="#333" stroke-width="0.13">300</text>
<text x="412.63" y="449.5" font-size="4.3" text-anchor="middle" font-weight="normal" fill="#333" stroke="#333" stroke-width="0.13">400</text>
<line x1="379.8" y1="451.4" x2="415.83" y2="451.4" stroke="#9a9a9a" stroke-width="0.7"/>
<text x="396.68" y="458.3" font-size="6.1" text-anchor="middle" font-weight="normal" fill="#1c1c1c" stroke="#1c1c1c" stroke-width="0.18">100% Confluent</text>
<rect x="427.96" y="362.75" width="7.7" height="81.75" fill="#a4a4a4" stroke="#8a8a8a" stroke-width="0.5"/>
<line x1="431.81" y1="347.6" x2="431.81" y2="362.5" stroke="#a8a8a8" stroke-width="1.1"/>
<line x1="431.01" y1="347.6" x2="432.61" y2="347.6" stroke="#a8a8a8" stroke-width="0.8"/>
<line x1="431.81" y1="362.5" x2="431.81" y2="377.4" stroke="#6a6a6a" stroke-width="0.8"/>
<rect x="437.56" y="351.55" width="7.7" height="92.95" fill="#585858" stroke="#444444" stroke-width="0.5"/>
<line x1="441.41" y1="337" x2="441.41" y2="351.3" stroke="#a8a8a8" stroke-width="1.1"/>
<line x1="440.61" y1="337" x2="442.21" y2="337" stroke="#a8a8a8" stroke-width="0.8"/>
<line x1="441.41" y1="351.3" x2="441.41" y2="365.6" stroke="#777" stroke-width="0.8"/>
<rect x="447.15" y="350.05" width="7.7" height="94.45" fill="#333333" stroke="#262626" stroke-width="0.5"/>
<line x1="451" y1="335.8" x2="451" y2="349.8" stroke="#a8a8a8" stroke-width="1.1"/>
<line x1="450.2" y1="335.8" x2="451.8" y2="335.8" stroke="#a8a8a8" stroke-width="0.8"/>
<line x1="451" y1="349.8" x2="451" y2="363.8" stroke="#555" stroke-width="0.8"/>
<rect x="456.74" y="345.25" width="7.7" height="99.25" fill="#050505" stroke="#000" stroke-width="0.5"/>
<line x1="460.59" y1="336.4" x2="460.59" y2="345" stroke="#a8a8a8" stroke-width="1.1"/>
<line x1="459.79" y1="336.4" x2="461.39" y2="336.4" stroke="#a8a8a8" stroke-width="0.8"/>
<line x1="460.59" y1="345" x2="460.59" y2="353.6" stroke="#222" stroke-width="0.8"/>
<text x="431.81" y="449.5" font-size="4.3" text-anchor="middle" font-weight="normal" fill="#333" stroke="#333" stroke-width="0.13">100</text>
<text x="441.41" y="449.5" font-size="4.3" text-anchor="middle" font-weight="normal" fill="#333" stroke="#333" stroke-width="0.13">200</text>
<text x="451" y="449.5" font-size="4.3" text-anchor="middle" font-weight="normal" fill="#333" stroke="#333" stroke-width="0.13">300</text>
<text x="460.59" y="449.5" font-size="4.3" text-anchor="middle" font-weight="normal" fill="#333" stroke="#333" stroke-width="0.13">400</text>
<line x1="427.76" y1="451.4" x2="463.79" y2="451.4" stroke="#9a9a9a" stroke-width="0.7"/>
<text x="445.54" y="458.3" font-size="6.1" text-anchor="middle" font-weight="normal" fill="#1c1c1c" stroke="#1c1c1c" stroke-width="0.18">60% Confluent</text>
<rect x="475.93" y="384.75" width="7.7" height="59.75" fill="#a4a4a4" stroke="#8a8a8a" stroke-width="0.5"/>
<line x1="479.78" y1="371.5" x2="479.78" y2="384.5" stroke="#a8a8a8" stroke-width="1.1"/>
<line x1="478.98" y1="371.5" x2="480.58" y2="371.5" stroke="#a8a8a8" stroke-width="0.8"/>
<line x1="479.78" y1="384.5" x2="479.78" y2="397.5" stroke="#6a6a6a" stroke-width="0.8"/>
<rect x="485.52" y="374.55" width="7.7" height="69.95" fill="#585858" stroke="#444444" stroke-width="0.5"/>
<line x1="489.37" y1="366" x2="489.37" y2="374.3" stroke="#a8a8a8" stroke-width="1.1"/>
<line x1="488.57" y1="366" x2="490.17" y2="366" stroke="#a8a8a8" stroke-width="0.8"/>
<line x1="489.37" y1="374.3" x2="489.37" y2="382.6" stroke="#777" stroke-width="0.8"/>
<rect x="495.11" y="362.75" width="7.7" height="81.75" fill="#333333" stroke="#262626" stroke-width="0.5"/>
<line x1="498.96" y1="354.9" x2="498.96" y2="362.5" stroke="#a8a8a8" stroke-width="1.1"/>
<line x1="498.16" y1="354.9" x2="499.76" y2="354.9" stroke="#a8a8a8" stroke-width="0.8"/>
<line x1="498.96" y1="362.5" x2="498.96" y2="370.1" stroke="#555" stroke-width="0.8"/>
<rect x="504.71" y="355.25" width="7.7" height="89.25" fill="#050505" stroke="#000" stroke-width="0.5"/>
<line x1="508.56" y1="345.2" x2="508.56" y2="355" stroke="#a8a8a8" stroke-width="1.1"/>
<line x1="507.76" y1="345.2" x2="509.36" y2="345.2" stroke="#a8a8a8" stroke-width="0.8"/>
<line x1="508.56" y1="355" x2="508.56" y2="364.8" stroke="#222" stroke-width="0.8"/>
<text x="479.78" y="449.5" font-size="4.3" text-anchor="middle" font-weight="normal" fill="#333" stroke="#333" stroke-width="0.13">100</text>
<text x="489.37" y="449.5" font-size="4.3" text-anchor="middle" font-weight="normal" fill="#333" stroke="#333" stroke-width="0.13">200</text>
<text x="498.96" y="449.5" font-size="4.3" text-anchor="middle" font-weight="normal" fill="#333" stroke="#333" stroke-width="0.13">300</text>
<text x="508.56" y="449.5" font-size="4.3" text-anchor="middle" font-weight="normal" fill="#333" stroke="#333" stroke-width="0.13">400</text>
<line x1="475.73" y1="451.4" x2="511.76" y2="451.4" stroke="#9a9a9a" stroke-width="0.7"/>
<text x="493.71" y="458.3" font-size="6.1" text-anchor="middle" font-weight="normal" fill="#1c1c1c" stroke="#1c1c1c" stroke-width="0.18">20% Confluent</text>
<circle cx="498.6" cy="348.4" r="1.05" fill="#111"/>
<path d="M498.6 346.6 L498.6 350.2 M497.04 347.5 L500.16 349.3 M500.16 347.5 L497.04 349.3" stroke="#111" stroke-width="0.75" fill="none"/>
<circle cx="508.2" cy="337.1" r="1.05" fill="#111"/>
<path d="M508.2 335.3 L508.2 338.9 M506.64 336.2 L509.76 338 M509.76 336.2 L506.64 338" stroke="#111" stroke-width="0.75" fill="none"/>
<rect x="378.9" y="328.3" width="134.3" height="116.2" fill="none" stroke="#929292" stroke-width="1"/>
<line x1="378.9" y1="425.13" x2="380.9" y2="425.13" stroke="#a0a0a0" stroke-width="1"/>
<line x1="513.2" y1="425.13" x2="511.2" y2="425.13" stroke="#a0a0a0" stroke-width="1"/>
<line x1="378.9" y1="405.77" x2="380.9" y2="405.77" stroke="#a0a0a0" stroke-width="1"/>
<line x1="513.2" y1="405.77" x2="511.2" y2="405.77" stroke="#a0a0a0" stroke-width="1"/>
<line x1="378.9" y1="386.4" x2="380.9" y2="386.4" stroke="#a0a0a0" stroke-width="1"/>
<line x1="513.2" y1="386.4" x2="511.2" y2="386.4" stroke="#a0a0a0" stroke-width="1"/>
<line x1="378.9" y1="367.03" x2="380.9" y2="367.03" stroke="#a0a0a0" stroke-width="1"/>
<line x1="513.2" y1="367.03" x2="511.2" y2="367.03" stroke="#a0a0a0" stroke-width="1"/>
<line x1="378.9" y1="347.67" x2="380.9" y2="347.67" stroke="#a0a0a0" stroke-width="1"/>
<line x1="513.2" y1="347.67" x2="511.2" y2="347.67" stroke="#a0a0a0" stroke-width="1"/>
<line x1="388.49" y1="444.5" x2="388.49" y2="442.9" stroke="#a0a0a0" stroke-width="1"/>
<line x1="388.49" y1="328.3" x2="388.49" y2="329.9" stroke="#a0a0a0" stroke-width="1"/>
<line x1="398.09" y1="444.5" x2="398.09" y2="442.9" stroke="#a0a0a0" stroke-width="1"/>
<line x1="398.09" y1="328.3" x2="398.09" y2="329.9" stroke="#a0a0a0" stroke-width="1"/>
<line x1="407.68" y1="444.5" x2="407.68" y2="442.9" stroke="#a0a0a0" stroke-width="1"/>
<line x1="407.68" y1="328.3" x2="407.68" y2="329.9" stroke="#a0a0a0" stroke-width="1"/>
<line x1="417.27" y1="444.5" x2="417.27" y2="442.9" stroke="#a0a0a0" stroke-width="1"/>
<line x1="417.27" y1="328.3" x2="417.27" y2="329.9" stroke="#a0a0a0" stroke-width="1"/>
<line x1="426.86" y1="444.5" x2="426.86" y2="442.9" stroke="#a0a0a0" stroke-width="1"/>
<line x1="426.86" y1="328.3" x2="426.86" y2="329.9" stroke="#a0a0a0" stroke-width="1"/>
<line x1="436.46" y1="444.5" x2="436.46" y2="442.9" stroke="#a0a0a0" stroke-width="1"/>
<line x1="436.46" y1="328.3" x2="436.46" y2="329.9" stroke="#a0a0a0" stroke-width="1"/>
<line x1="446.05" y1="444.5" x2="446.05" y2="442.9" stroke="#a0a0a0" stroke-width="1"/>
<line x1="446.05" y1="328.3" x2="446.05" y2="329.9" stroke="#a0a0a0" stroke-width="1"/>
<line x1="455.64" y1="444.5" x2="455.64" y2="442.9" stroke="#a0a0a0" stroke-width="1"/>
<line x1="455.64" y1="328.3" x2="455.64" y2="329.9" stroke="#a0a0a0" stroke-width="1"/>
<line x1="465.24" y1="444.5" x2="465.24" y2="442.9" stroke="#a0a0a0" stroke-width="1"/>
<line x1="465.24" y1="328.3" x2="465.24" y2="329.9" stroke="#a0a0a0" stroke-width="1"/>
<line x1="474.83" y1="444.5" x2="474.83" y2="442.9" stroke="#a0a0a0" stroke-width="1"/>
<line x1="474.83" y1="328.3" x2="474.83" y2="329.9" stroke="#a0a0a0" stroke-width="1"/>
<line x1="484.42" y1="444.5" x2="484.42" y2="442.9" stroke="#a0a0a0" stroke-width="1"/>
<line x1="484.42" y1="328.3" x2="484.42" y2="329.9" stroke="#a0a0a0" stroke-width="1"/>
<line x1="494.01" y1="444.5" x2="494.01" y2="442.9" stroke="#a0a0a0" stroke-width="1"/>
<line x1="494.01" y1="328.3" x2="494.01" y2="329.9" stroke="#a0a0a0" stroke-width="1"/>
<line x1="503.61" y1="444.5" x2="503.61" y2="442.9" stroke="#a0a0a0" stroke-width="1"/>
<line x1="503.61" y1="328.3" x2="503.61" y2="329.9" stroke="#a0a0a0" stroke-width="1"/>
<text x="375.9" y="445.3" font-size="7" text-anchor="end" font-weight="normal" fill="#1c1c1c" stroke="#1c1c1c" stroke-width="0.21">0</text>
<text x="375.9" y="425.93" font-size="7" text-anchor="end" font-weight="normal" fill="#1c1c1c" stroke="#1c1c1c" stroke-width="0.21">100</text>
<text x="375.9" y="406.57" font-size="7" text-anchor="end" font-weight="normal" fill="#1c1c1c" stroke="#1c1c1c" stroke-width="0.21">200</text>
<text x="375.9" y="387.2" font-size="7" text-anchor="end" font-weight="normal" fill="#1c1c1c" stroke="#1c1c1c" stroke-width="0.21">300</text>
<text x="375.9" y="367.83" font-size="7" text-anchor="end" font-weight="normal" fill="#1c1c1c" stroke="#1c1c1c" stroke-width="0.21">400</text>
<text x="375.9" y="348.47" font-size="7" text-anchor="end" font-weight="normal" fill="#1c1c1c" stroke="#1c1c1c" stroke-width="0.21">500</text>
<text x="375.9" y="329.1" font-size="7" text-anchor="end" font-weight="normal" fill="#1c1c1c" stroke="#1c1c1c" stroke-width="0.21">600</text>
<text x="441.6" y="468.7" font-size="7.1" text-anchor="middle" font-weight="normal" fill="#1c1c1c" stroke="#1c1c1c" stroke-width="0.21">% FVIII</text>
<text x="360.4" y="386.2" font-size="7.6" text-anchor="middle" font-weight="normal" fill="#1c1c1c" stroke="#1c1c1c" stroke-width="0.23" transform="rotate(-90 360.4 386.2)">Peak Height (nM Thrombin)</text>
</svg>
</body></html>
